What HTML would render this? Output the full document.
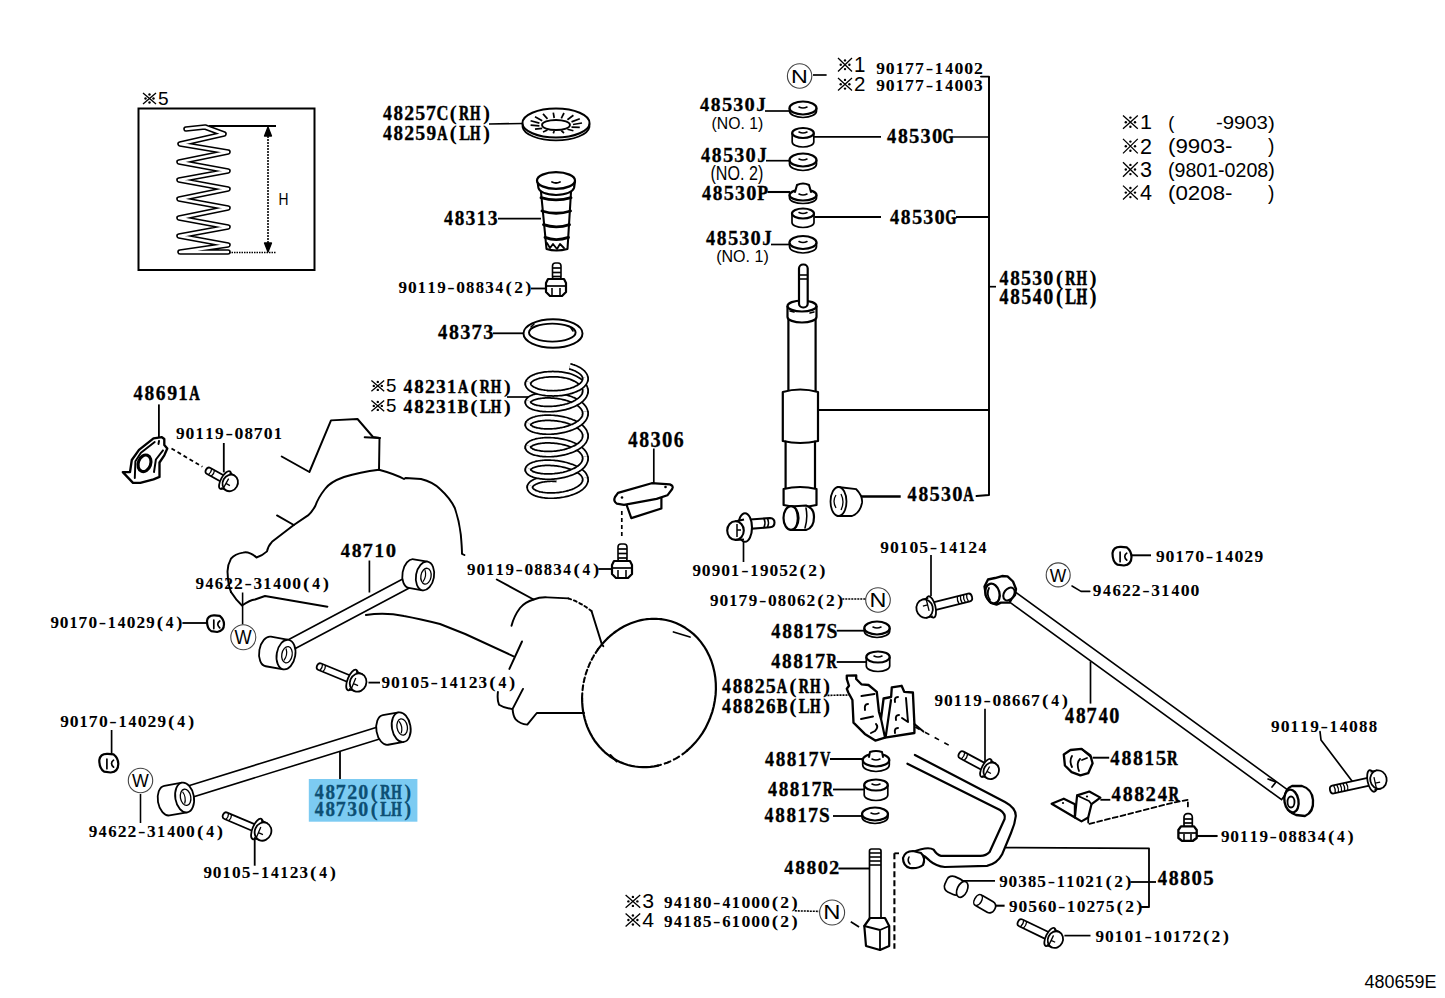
<!DOCTYPE html>
<html><head><meta charset="utf-8"><style>html,body{margin:0;padding:0;background:#fff;width:1445px;height:998px;overflow:hidden}svg{display:block}</style></head>
<body><svg width="1445" height="998" viewBox="0 0 1445 998">
<rect width="1445" height="998" fill="#fff"/>
<rect x="138.5" y="108.5" width="176" height="161.5" stroke="#000" stroke-width="2" fill="none"/>
<path d="M186,129 L205,127 L224,134 L180,144 L228,152 L179,162 L228,171 L179,180 L228,189 L179,199 L228,208 L179,218 L228,227 L179,236 L228,245 L180,252 L228,252" stroke="#000" stroke-width="5.6" fill="none" stroke-linejoin="round" stroke-linecap="round"/>
<path d="M186,129 L205,127 L224,134 L180,144 L228,152 L179,162 L228,171 L179,180 L228,189 L179,199 L228,208 L179,218 L228,227 L179,236 L228,245 L180,252 L228,252" stroke="#fff" stroke-width="2.4" fill="none" stroke-linejoin="round" stroke-linecap="round"/>
<line x1="209.0" y1="126.0" x2="276.0" y2="126.0" stroke="#000" stroke-width="1.95"/>
<line x1="229.0" y1="252.5" x2="276.0" y2="252.5" stroke="#000" stroke-width="1.69" stroke-dasharray="1.5,1"/>
<line x1="268.0" y1="130.0" x2="268.0" y2="249.0" stroke="#000" stroke-width="1.56" stroke-dasharray="2,1"/>
<path d="M264.5,136 L268,127 L271.5,136 Z" stroke="#000" stroke-width="1.30" fill="#000" stroke-linejoin="round" stroke-linecap="round" />
<path d="M264.5,243 L268,252 L271.5,243 Z" stroke="#000" stroke-width="1.30" fill="#000" stroke-linejoin="round" stroke-linecap="round" />
<line x1="489.0" y1="124.0" x2="523.0" y2="123.5" stroke="#000" stroke-width="1.69"/>
<path d="M522.5,124 L522.6,127 A33.5,14.5 0 0 0 589.4,127 L589.5,124" stroke="#000" stroke-width="1.82" fill="none" stroke-linejoin="round" stroke-linecap="round" />
<ellipse cx="556.0" cy="123.0" rx="33.5" ry="14.5" stroke="#000" stroke-width="1.95" fill="#fff"/>
<ellipse cx="556.0" cy="125.0" rx="14.0" ry="5.0" stroke="#000" stroke-width="1.82" fill="#fff"/>
<line x1="573.0" y1="124.5" x2="582.0" y2="123.0" stroke="#000" stroke-width="1.69"/>
<line x1="571.5" y1="127.1" x2="579.8" y2="127.3" stroke="#000" stroke-width="1.69"/>
<line x1="567.4" y1="129.3" x2="573.4" y2="130.8" stroke="#000" stroke-width="1.69"/>
<line x1="561.3" y1="130.7" x2="564.0" y2="133.0" stroke="#000" stroke-width="1.69"/>
<line x1="554.2" y1="131.0" x2="553.3" y2="133.4" stroke="#000" stroke-width="1.69"/>
<line x1="547.5" y1="130.1" x2="543.0" y2="132.1" stroke="#000" stroke-width="1.69"/>
<line x1="542.2" y1="128.3" x2="535.0" y2="129.2" stroke="#000" stroke-width="1.69"/>
<line x1="539.4" y1="125.9" x2="530.6" y2="125.2" stroke="#000" stroke-width="1.69"/>
<line x1="539.4" y1="123.1" x2="530.6" y2="120.8" stroke="#000" stroke-width="1.69"/>
<line x1="542.2" y1="120.7" x2="535.0" y2="116.8" stroke="#000" stroke-width="1.69"/>
<line x1="547.5" y1="118.9" x2="543.0" y2="113.9" stroke="#000" stroke-width="1.69"/>
<line x1="554.2" y1="118.0" x2="553.3" y2="112.6" stroke="#000" stroke-width="1.69"/>
<line x1="561.3" y1="118.3" x2="564.0" y2="113.0" stroke="#000" stroke-width="1.69"/>
<line x1="567.4" y1="119.7" x2="573.4" y2="115.2" stroke="#000" stroke-width="1.69"/>
<line x1="571.5" y1="121.9" x2="579.8" y2="118.7" stroke="#000" stroke-width="1.69"/>
<line x1="498.0" y1="218.6" x2="541.0" y2="218.6" stroke="#000" stroke-width="1.69"/>
<path d="M541,192 L546.5,249 Q556,252 567.5,249 L571,192" stroke="#000" stroke-width="2.08" fill="#fff" stroke-linejoin="round" stroke-linecap="round" />
<path d="M541,197.6 Q556,202.1 571,197.6" stroke="#000" stroke-width="2.86" fill="none" stroke-linejoin="round" stroke-linecap="round" />
<path d="M542,211 Q556,215.5 570.5,211" stroke="#000" stroke-width="2.86" fill="none" stroke-linejoin="round" stroke-linecap="round" />
<path d="M543.5,224.6 Q556,229.1 569.5,224.6" stroke="#000" stroke-width="2.86" fill="none" stroke-linejoin="round" stroke-linecap="round" />
<path d="M545,237.4 Q556,241.9 568.5,237.4" stroke="#000" stroke-width="2.86" fill="none" stroke-linejoin="round" stroke-linecap="round" />
<path d="M547,243 l3,5 l3,-4 l4,5 l3,-5 l4,4" stroke="#000" stroke-width="1.82" fill="none" stroke-linejoin="round" stroke-linecap="round" />
<path d="M537.5,181 L538.5,188 Q540,194 556,195 Q572,194 574,188 L575,181" stroke="#000" stroke-width="2.21" fill="#fff" stroke-linejoin="round" stroke-linecap="round" />
<ellipse cx="556.0" cy="180.5" rx="19.0" ry="8.3" stroke="#000" stroke-width="2.21" fill="#fff"/>
<path d="M552,182 q4,2 8,0" stroke="#000" stroke-width="1.82" fill="none" stroke-linejoin="round" stroke-linecap="round" />
<line x1="531.0" y1="288.5" x2="546.0" y2="288.5" stroke="#000" stroke-width="1.82"/>
<rect x="552.5" y="263" width="8.5" height="17" rx="3" stroke="#000" stroke-width="1.6" fill="#fff"/>
<line x1="552.5" y1="268.0" x2="561.0" y2="268.0" stroke="#000" stroke-width="1.69"/>
<line x1="552.5" y1="272.5" x2="561.0" y2="272.5" stroke="#000" stroke-width="1.69"/>
<line x1="552.5" y1="276.5" x2="561.0" y2="276.5" stroke="#000" stroke-width="1.69"/>
<path d="M546,283 L548,279 L564,279 L566,283 L566,292 L562,296 L550,296 L546,292 Z" stroke="#000" stroke-width="2.21" fill="#fff" stroke-linejoin="round" stroke-linecap="round" />
<line x1="546.0" y1="286.0" x2="566.0" y2="286.0" stroke="#000" stroke-width="1.69"/>
<line x1="552.0" y1="288.0" x2="552.0" y2="296.0" stroke="#000" stroke-width="1.56"/>
<line x1="560.0" y1="288.0" x2="560.0" y2="296.0" stroke="#000" stroke-width="1.56"/>
<line x1="493.0" y1="333.3" x2="523.0" y2="333.3" stroke="#000" stroke-width="1.82"/>
<ellipse cx="553.0" cy="333.5" rx="29.5" ry="14.3" stroke="#000" stroke-width="1.95" fill="#fff"/>
<ellipse cx="552.3" cy="332.6" rx="23.3" ry="9.0" stroke="#000" stroke-width="1.95" fill="#fff"/>
<path d="M531,327 l3,-3 M571,328 l2,3" stroke="#000" stroke-width="1.56" fill="none" stroke-linejoin="round" stroke-linecap="round" />
<line x1="507.0" y1="397.0" x2="529.0" y2="397.0" stroke="#000" stroke-width="1.69"/>
<path d="M569.7,366.3 L570.9,366.6 L572.0,367.0 L573.2,367.4 L574.2,367.8 L575.3,368.2 L576.3,368.7 L577.2,369.1 L578.1,369.6 L579.0,370.1 L579.8,370.6 L580.6,371.2 L581.3,371.7 L582.0,372.3 L582.6,372.8 L583.1,373.4 L583.6,374.0 L584.0,374.6 L584.4,375.2 L584.7,375.8 L585.0,376.5 L585.2,377.1 L585.3,377.7 L585.4,378.4 L585.4,379.0 L585.3,379.6 L585.2,380.2 L585.0,380.9" stroke="#000" stroke-width="7" fill="none" stroke-linecap="butt"/>
<path d="M569.7,366.3 L570.9,366.6 L572.0,367.0 L573.2,367.4 L574.2,367.8 L575.3,368.2 L576.3,368.7 L577.2,369.1 L578.1,369.6 L579.0,370.1 L579.8,370.6 L580.6,371.2 L581.3,371.7 L582.0,372.3 L582.6,372.8 L583.1,373.4 L583.6,374.0 L584.0,374.6 L584.4,375.2 L584.7,375.8 L585.0,376.5 L585.2,377.1 L585.3,377.7 L585.4,378.4 L585.4,379.0 L585.3,379.6 L585.2,380.2 L585.0,380.9" stroke="#fff" stroke-width="3.6" fill="none" stroke-linecap="butt"/>
<path d="M528.1,384.8 L528.0,384.3 L528.0,383.8 L528.0,383.3 L528.1,382.9 L528.3,382.4 L528.5,381.9 L528.7,381.4 L529.1,381.0 L529.5,380.5 L529.9,380.0 L530.4,379.6 L531.0,379.2 L531.6,378.7 L532.3,378.3 L533.0,377.9 L533.8,377.6 L534.6,377.2 L535.5,376.9 L536.4,376.5 L537.4,376.2 L538.4,375.9 L539.4,375.6 L540.5,375.4 L541.6,375.2 L542.8,375.0 L543.9,374.8 L545.2,374.6 L546.4,374.5 L547.6,374.4 L548.9,374.3 L550.2,374.2 L551.5,374.2 L552.8,374.1 L554.2,374.2 L555.5,374.2 L556.8,374.3 L558.2,374.3 L559.5,374.5 L560.8,374.6 L562.1,374.8 L563.5,375.0 L564.7,375.2 L566.0,375.4 L567.3,375.7 L568.5,376.0 L569.7,376.3 L570.9,376.7 L572.0,377.2 L573.1,377.7 L574.2,378.2 L575.3,378.7 L576.3,379.2 L577.2,379.8 L578.1,380.3 L579.0,380.9 L579.8,381.5 L580.6,382.2 L581.3,382.8 L581.9,383.5 L582.6,384.1 L583.1,384.8 L583.6,385.5 L584.0,386.2 L584.4,386.9 L584.7,387.6 L585.0,388.3 L585.2,389.0 L585.3,389.7 L585.4,390.5 L585.4,391.2 L585.3,391.9 L585.2,392.6 L585.1,393.4" stroke="#000" stroke-width="7" fill="none" stroke-linecap="butt"/>
<path d="M528.1,384.8 L528.0,384.3 L528.0,383.8 L528.0,383.3 L528.1,382.9 L528.3,382.4 L528.5,381.9 L528.7,381.4 L529.1,381.0 L529.5,380.5 L529.9,380.0 L530.4,379.6 L531.0,379.2 L531.6,378.7 L532.3,378.3 L533.0,377.9 L533.8,377.6 L534.6,377.2 L535.5,376.9 L536.4,376.5 L537.4,376.2 L538.4,375.9 L539.4,375.6 L540.5,375.4 L541.6,375.2 L542.8,375.0 L543.9,374.8 L545.2,374.6 L546.4,374.5 L547.6,374.4 L548.9,374.3 L550.2,374.2 L551.5,374.2 L552.8,374.1 L554.2,374.2 L555.5,374.2 L556.8,374.3 L558.2,374.3 L559.5,374.5 L560.8,374.6 L562.1,374.8 L563.5,375.0 L564.7,375.2 L566.0,375.4 L567.3,375.7 L568.5,376.0 L569.7,376.3 L570.9,376.7 L572.0,377.2 L573.1,377.7 L574.2,378.2 L575.3,378.7 L576.3,379.2 L577.2,379.8 L578.1,380.3 L579.0,380.9 L579.8,381.5 L580.6,382.2 L581.3,382.8 L581.9,383.5 L582.6,384.1 L583.1,384.8 L583.6,385.5 L584.0,386.2 L584.4,386.9 L584.7,387.6 L585.0,388.3 L585.2,389.0 L585.3,389.7 L585.4,390.5 L585.4,391.2 L585.3,391.9 L585.2,392.6 L585.1,393.4" stroke="#fff" stroke-width="3.6" fill="none" stroke-linecap="butt"/>
<path d="M528.1,403.0 L528.0,402.6 L528.0,402.3 L528.0,401.9 L528.1,401.5 L528.3,401.1 L528.5,400.7 L528.7,400.3 L529.1,399.9 L529.4,399.6 L529.9,399.2 L530.4,398.9 L531.0,398.5 L531.6,398.2 L532.2,397.9 L533.0,397.6 L533.7,397.3 L534.6,397.0 L535.4,396.8 L536.4,396.5 L537.3,396.3 L538.3,396.1 L539.4,395.9 L540.5,395.8 L541.6,395.6 L542.7,395.5 L543.9,395.4 L545.1,395.3 L546.4,395.3 L547.6,395.3 L548.9,395.3 L550.2,395.3 L551.5,395.4 L552.8,395.4 L554.1,395.5 L555.5,395.7 L556.8,395.8 L558.1,396.0 L559.5,396.2 L560.8,396.4 L562.1,396.7 L563.4,397.0 L564.7,397.3 L566.0,397.6 L567.2,398.0 L568.5,398.4 L569.7,398.8 L570.9,399.2 L572.0,399.7 L573.1,400.1 L574.2,400.6 L575.2,401.2 L576.2,401.7 L577.2,402.3 L578.1,402.8 L579.0,403.4 L579.8,404.0 L580.6,404.7 L581.3,405.3 L581.9,405.9 L582.5,406.6 L583.1,407.3 L583.6,408.0 L584.0,408.7 L584.4,409.4 L584.7,410.1 L585.0,410.8 L585.2,411.5 L585.3,412.2 L585.4,413.0 L585.4,413.7 L585.3,414.4 L585.2,415.1 L585.1,415.8" stroke="#000" stroke-width="7" fill="none" stroke-linecap="butt"/>
<path d="M528.1,403.0 L528.0,402.6 L528.0,402.3 L528.0,401.9 L528.1,401.5 L528.3,401.1 L528.5,400.7 L528.7,400.3 L529.1,399.9 L529.4,399.6 L529.9,399.2 L530.4,398.9 L531.0,398.5 L531.6,398.2 L532.2,397.9 L533.0,397.6 L533.7,397.3 L534.6,397.0 L535.4,396.8 L536.4,396.5 L537.3,396.3 L538.3,396.1 L539.4,395.9 L540.5,395.8 L541.6,395.6 L542.7,395.5 L543.9,395.4 L545.1,395.3 L546.4,395.3 L547.6,395.3 L548.9,395.3 L550.2,395.3 L551.5,395.4 L552.8,395.4 L554.1,395.5 L555.5,395.7 L556.8,395.8 L558.1,396.0 L559.5,396.2 L560.8,396.4 L562.1,396.7 L563.4,397.0 L564.7,397.3 L566.0,397.6 L567.2,398.0 L568.5,398.4 L569.7,398.8 L570.9,399.2 L572.0,399.7 L573.1,400.1 L574.2,400.6 L575.2,401.2 L576.2,401.7 L577.2,402.3 L578.1,402.8 L579.0,403.4 L579.8,404.0 L580.6,404.7 L581.3,405.3 L581.9,405.9 L582.5,406.6 L583.1,407.3 L583.6,408.0 L584.0,408.7 L584.4,409.4 L584.7,410.1 L585.0,410.8 L585.2,411.5 L585.3,412.2 L585.4,413.0 L585.4,413.7 L585.3,414.4 L585.2,415.1 L585.1,415.8" stroke="#fff" stroke-width="3.6" fill="none" stroke-linecap="butt"/>
<path d="M528.1,425.5 L528.0,425.2 L528.0,424.8 L528.0,424.4 L528.1,424.0 L528.2,423.6 L528.5,423.2 L528.7,422.8 L529.0,422.4 L529.4,422.1 L529.9,421.7 L530.4,421.4 L530.9,421.0 L531.6,420.7 L532.2,420.4 L533.0,420.1 L533.7,419.8 L534.6,419.5 L535.4,419.3 L536.4,419.0 L537.3,418.8 L538.3,418.6 L539.4,418.4 L540.4,418.3 L541.6,418.1 L542.7,418.0 L543.9,417.9 L545.1,417.8 L546.3,417.8 L547.6,417.8 L548.9,417.8 L550.2,417.8 L551.5,417.9 L552.8,417.9 L554.1,418.0 L555.4,418.2 L556.8,418.3 L558.1,418.5 L559.5,418.7 L560.8,418.9 L562.1,419.2 L563.4,419.5 L564.7,419.8 L566.0,420.1 L567.2,420.5 L568.4,420.9 L569.7,421.3 L570.8,421.7 L572.0,422.2 L573.1,422.6 L574.2,423.1 L575.2,423.7 L576.2,424.2 L577.2,424.7 L578.1,425.3 L578.9,425.9 L579.8,426.5 L580.5,427.1 L581.3,427.8 L581.9,428.4 L582.5,429.1 L583.1,429.8 L583.6,430.5 L584.0,431.1 L584.4,431.8 L584.7,432.6 L585.0,433.3 L585.2,434.0 L585.3,434.7 L585.4,435.4 L585.4,436.2 L585.3,436.9 L585.2,437.6 L585.1,438.3" stroke="#000" stroke-width="7" fill="none" stroke-linecap="butt"/>
<path d="M528.1,425.5 L528.0,425.2 L528.0,424.8 L528.0,424.4 L528.1,424.0 L528.2,423.6 L528.5,423.2 L528.7,422.8 L529.0,422.4 L529.4,422.1 L529.9,421.7 L530.4,421.4 L530.9,421.0 L531.6,420.7 L532.2,420.4 L533.0,420.1 L533.7,419.8 L534.6,419.5 L535.4,419.3 L536.4,419.0 L537.3,418.8 L538.3,418.6 L539.4,418.4 L540.4,418.3 L541.6,418.1 L542.7,418.0 L543.9,417.9 L545.1,417.8 L546.3,417.8 L547.6,417.8 L548.9,417.8 L550.2,417.8 L551.5,417.9 L552.8,417.9 L554.1,418.0 L555.4,418.2 L556.8,418.3 L558.1,418.5 L559.5,418.7 L560.8,418.9 L562.1,419.2 L563.4,419.5 L564.7,419.8 L566.0,420.1 L567.2,420.5 L568.4,420.9 L569.7,421.3 L570.8,421.7 L572.0,422.2 L573.1,422.6 L574.2,423.1 L575.2,423.7 L576.2,424.2 L577.2,424.7 L578.1,425.3 L578.9,425.9 L579.8,426.5 L580.5,427.1 L581.3,427.8 L581.9,428.4 L582.5,429.1 L583.1,429.8 L583.6,430.5 L584.0,431.1 L584.4,431.8 L584.7,432.6 L585.0,433.3 L585.2,434.0 L585.3,434.7 L585.4,435.4 L585.4,436.2 L585.3,436.9 L585.2,437.6 L585.1,438.3" stroke="#fff" stroke-width="3.6" fill="none" stroke-linecap="butt"/>
<path d="M528.2,448.0 L528.0,447.7 L528.0,447.3 L528.0,446.9 L528.1,446.5 L528.2,446.1 L528.4,445.7 L528.7,445.3 L529.0,445.0 L529.4,444.6 L529.9,444.2 L530.4,443.9 L530.9,443.5 L531.5,443.2 L532.2,442.9 L532.9,442.6 L533.7,442.3 L534.5,442.0 L535.4,441.8 L536.3,441.5 L537.3,441.3 L538.3,441.1 L539.3,440.9 L540.4,440.8 L541.5,440.6 L542.7,440.5 L543.9,440.4 L545.1,440.3 L546.3,440.3 L547.6,440.3 L548.8,440.3 L550.1,440.3 L551.4,440.4 L552.8,440.4 L554.1,440.5 L555.4,440.7 L556.8,440.8 L558.1,441.0 L559.4,441.2 L560.7,441.4 L562.1,441.7 L563.4,442.0 L564.7,442.3 L565.9,442.6 L567.2,443.0 L568.4,443.4 L569.6,443.8 L570.8,444.2 L572.0,444.7 L573.1,445.1 L574.1,445.6 L575.2,446.1 L576.2,446.7 L577.1,447.2 L578.1,447.8 L578.9,448.4 L579.8,449.0 L580.5,449.6 L581.2,450.3 L581.9,450.9 L582.5,451.6 L583.1,452.3 L583.6,452.9 L584.0,453.6 L584.4,454.3 L584.7,455.0 L585.0,455.8 L585.2,456.5 L585.3,457.2 L585.4,457.9 L585.4,458.6 L585.3,459.4 L585.2,460.1 L585.1,460.8" stroke="#000" stroke-width="7" fill="none" stroke-linecap="butt"/>
<path d="M528.2,448.0 L528.0,447.7 L528.0,447.3 L528.0,446.9 L528.1,446.5 L528.2,446.1 L528.4,445.7 L528.7,445.3 L529.0,445.0 L529.4,444.6 L529.9,444.2 L530.4,443.9 L530.9,443.5 L531.5,443.2 L532.2,442.9 L532.9,442.6 L533.7,442.3 L534.5,442.0 L535.4,441.8 L536.3,441.5 L537.3,441.3 L538.3,441.1 L539.3,440.9 L540.4,440.8 L541.5,440.6 L542.7,440.5 L543.9,440.4 L545.1,440.3 L546.3,440.3 L547.6,440.3 L548.8,440.3 L550.1,440.3 L551.4,440.4 L552.8,440.4 L554.1,440.5 L555.4,440.7 L556.8,440.8 L558.1,441.0 L559.4,441.2 L560.7,441.4 L562.1,441.7 L563.4,442.0 L564.7,442.3 L565.9,442.6 L567.2,443.0 L568.4,443.4 L569.6,443.8 L570.8,444.2 L572.0,444.7 L573.1,445.1 L574.1,445.6 L575.2,446.1 L576.2,446.7 L577.1,447.2 L578.1,447.8 L578.9,448.4 L579.8,449.0 L580.5,449.6 L581.2,450.3 L581.9,450.9 L582.5,451.6 L583.1,452.3 L583.6,452.9 L584.0,453.6 L584.4,454.3 L584.7,455.0 L585.0,455.8 L585.2,456.5 L585.3,457.2 L585.4,457.9 L585.4,458.6 L585.3,459.4 L585.2,460.1 L585.1,460.8" stroke="#fff" stroke-width="3.6" fill="none" stroke-linecap="butt"/>
<path d="M528.2,470.6 L528.0,470.2 L528.0,469.8 L528.0,469.4 L528.1,469.0 L528.2,468.6 L528.4,468.2 L528.7,467.8 L529.0,467.5 L529.4,467.1 L529.9,466.7 L530.4,466.4 L530.9,466.0 L531.5,465.7 L532.2,465.4 L532.9,465.1 L533.7,464.8 L534.5,464.5 L535.4,464.3 L536.3,464.0 L537.3,463.8 L538.3,463.6 L539.3,463.4 L540.4,463.3 L541.5,463.1 L542.7,463.0 L543.8,462.9 L545.1,462.8 L546.3,462.8 L547.5,462.8 L548.8,462.8 L550.1,462.8 L551.4,462.9 L552.7,462.9 L554.1,463.0 L555.4,463.2 L556.7,463.3 L558.1,463.5 L559.4,463.7 L560.7,463.9 L562.0,464.2 L563.3,464.5 L564.6,464.8 L565.9,465.1 L567.2,465.5 L568.4,465.9 L569.6,466.3 L570.8,466.6 L571.9,467.0 L573.0,467.5 L574.1,467.9 L575.2,468.4 L576.2,468.8 L577.1,469.3 L578.0,469.9 L578.9,470.4 L579.7,470.9 L580.5,471.5 L581.2,472.1 L581.9,472.7 L582.5,473.3 L583.1,473.9 L583.6,474.5 L584.0,475.2 L584.4,475.8 L584.7,476.5 L585.0,477.1 L585.2,477.8 L585.3,478.5 L585.4,479.1 L585.4,479.8 L585.4,480.5 L585.2,481.1 L585.1,481.8" stroke="#000" stroke-width="7" fill="none" stroke-linecap="butt"/>
<path d="M528.2,470.6 L528.0,470.2 L528.0,469.8 L528.0,469.4 L528.1,469.0 L528.2,468.6 L528.4,468.2 L528.7,467.8 L529.0,467.5 L529.4,467.1 L529.9,466.7 L530.4,466.4 L530.9,466.0 L531.5,465.7 L532.2,465.4 L532.9,465.1 L533.7,464.8 L534.5,464.5 L535.4,464.3 L536.3,464.0 L537.3,463.8 L538.3,463.6 L539.3,463.4 L540.4,463.3 L541.5,463.1 L542.7,463.0 L543.8,462.9 L545.1,462.8 L546.3,462.8 L547.5,462.8 L548.8,462.8 L550.1,462.8 L551.4,462.9 L552.7,462.9 L554.1,463.0 L555.4,463.2 L556.7,463.3 L558.1,463.5 L559.4,463.7 L560.7,463.9 L562.0,464.2 L563.3,464.5 L564.6,464.8 L565.9,465.1 L567.2,465.5 L568.4,465.9 L569.6,466.3 L570.8,466.6 L571.9,467.0 L573.0,467.5 L574.1,467.9 L575.2,468.4 L576.2,468.8 L577.1,469.3 L578.0,469.9 L578.9,470.4 L579.7,470.9 L580.5,471.5 L581.2,472.1 L581.9,472.7 L582.5,473.3 L583.1,473.9 L583.6,474.5 L584.0,475.2 L584.4,475.8 L584.7,476.5 L585.0,477.1 L585.2,477.8 L585.3,478.5 L585.4,479.1 L585.4,479.8 L585.4,480.5 L585.2,481.1 L585.1,481.8" stroke="#fff" stroke-width="3.6" fill="none" stroke-linecap="butt"/>
<path d="M529.9,488.1 L529.9,487.7 L529.9,487.2 L529.9,486.8 L530.0,486.3 L530.2,485.9 L530.4,485.5 L530.7,485.0 L531.0,484.6 L531.4,484.2 L531.9,483.7 L532.4,483.3 L532.9,482.9 L533.5,482.6 L534.2,482.2 L534.9,481.8 L535.6,481.5 L536.4,481.2 L537.2,480.8 L538.1,480.5 L539.0,480.3 L539.9,480.0 L540.9,479.8 L541.9,479.6 L542.9,479.4 L544.0,479.2 L545.1,479.0 L546.2,478.9 L547.3,478.8 L548.4,478.7 L549.6,478.7 L550.8,478.6 L551.9,478.6 L553.1,478.7 L554.3,478.7 L555.5,478.8 L556.7,478.9" stroke="#000" stroke-width="7" fill="none" stroke-linecap="butt"/>
<path d="M529.9,488.1 L529.9,487.7 L529.9,487.2 L529.9,486.8 L530.0,486.3 L530.2,485.9 L530.4,485.5 L530.7,485.0 L531.0,484.6 L531.4,484.2 L531.9,483.7 L532.4,483.3 L532.9,482.9 L533.5,482.6 L534.2,482.2 L534.9,481.8 L535.6,481.5 L536.4,481.2 L537.2,480.8 L538.1,480.5 L539.0,480.3 L539.9,480.0 L540.9,479.8 L541.9,479.6 L542.9,479.4 L544.0,479.2 L545.1,479.0 L546.2,478.9 L547.3,478.8 L548.4,478.7 L549.6,478.7 L550.8,478.6 L551.9,478.6 L553.1,478.7 L554.3,478.7 L555.5,478.8 L556.7,478.9" stroke="#fff" stroke-width="3.6" fill="none" stroke-linecap="butt"/>
<path d="M585.2,377.1 L585.3,377.7 L585.4,378.4 L585.4,379.0 L585.3,379.6 L585.2,380.2 L585.0,380.9 L584.8,381.5 L584.5,382.1 L584.1,382.7 L583.7,383.3 L583.2,383.9 L582.7,384.5 L582.1,385.1 L581.5,385.6 L580.8,386.2 L580.0,386.7 L579.2,387.3 L578.4,387.8 L577.5,388.2 L576.5,388.7 L575.5,389.2 L574.5,389.6 L573.4,390.0 L572.3,390.4 L571.2,390.8 L570.0,391.1 L568.8,391.4 L567.6,391.7 L566.4,392.0 L565.1,392.3 L563.8,392.5 L562.5,392.7 L561.2,392.9 L559.9,393.0 L558.5,393.1 L557.2,393.2 L555.9,393.3 L554.5,393.3 L553.2,393.4 L551.9,393.3 L550.6,393.3 L549.3,393.3 L548.0,393.2 L546.7,393.1 L545.5,392.9 L544.3,392.8 L543.1,392.6 L541.9,392.4 L540.8,392.2 L539.7,391.9 L538.7,391.7 L537.6,391.4 L536.7,391.1 L535.7,390.7 L534.8,390.4 L534.0,390.0 L533.2,389.7 L532.5,389.3 L531.8,388.9 L531.1,388.5 L530.6,388.0 L530.0,387.6 L529.6,387.1 L529.2,386.7 L528.8,386.2 L528.5,385.7 L528.3,385.3 L528.1,384.8 L528.0,384.3 L528.0,383.8 L528.0,383.3 L528.1,382.9 L528.3,382.4 L528.5,381.9" stroke="#000" stroke-width="7" fill="none" stroke-linecap="butt"/>
<path d="M585.2,377.1 L585.3,377.7 L585.4,378.4 L585.4,379.0 L585.3,379.6 L585.2,380.2 L585.0,380.9 L584.8,381.5 L584.5,382.1 L584.1,382.7 L583.7,383.3 L583.2,383.9 L582.7,384.5 L582.1,385.1 L581.5,385.6 L580.8,386.2 L580.0,386.7 L579.2,387.3 L578.4,387.8 L577.5,388.2 L576.5,388.7 L575.5,389.2 L574.5,389.6 L573.4,390.0 L572.3,390.4 L571.2,390.8 L570.0,391.1 L568.8,391.4 L567.6,391.7 L566.4,392.0 L565.1,392.3 L563.8,392.5 L562.5,392.7 L561.2,392.9 L559.9,393.0 L558.5,393.1 L557.2,393.2 L555.9,393.3 L554.5,393.3 L553.2,393.4 L551.9,393.3 L550.6,393.3 L549.3,393.3 L548.0,393.2 L546.7,393.1 L545.5,392.9 L544.3,392.8 L543.1,392.6 L541.9,392.4 L540.8,392.2 L539.7,391.9 L538.7,391.7 L537.6,391.4 L536.7,391.1 L535.7,390.7 L534.8,390.4 L534.0,390.0 L533.2,389.7 L532.5,389.3 L531.8,388.9 L531.1,388.5 L530.6,388.0 L530.0,387.6 L529.6,387.1 L529.2,386.7 L528.8,386.2 L528.5,385.7 L528.3,385.3 L528.1,384.8 L528.0,384.3 L528.0,383.8 L528.0,383.3 L528.1,382.9 L528.3,382.4 L528.5,381.9" stroke="#fff" stroke-width="3.6" fill="none" stroke-linecap="butt"/>
<path d="M585.2,389.0 L585.3,389.7 L585.4,390.5 L585.4,391.2 L585.3,391.9 L585.2,392.6 L585.1,393.4 L584.8,394.1 L584.5,394.8 L584.2,395.5 L583.7,396.2 L583.3,396.9 L582.7,397.6 L582.1,398.2 L581.5,398.9 L580.8,399.5 L580.0,400.1 L579.2,400.8 L578.4,401.4 L577.5,401.9 L576.5,402.5 L575.6,403.0 L574.5,403.6 L573.5,404.1 L572.4,404.6 L571.2,405.0 L570.1,405.4 L568.9,405.9 L567.6,406.3 L566.4,406.6 L565.1,407.0 L563.8,407.3 L562.5,407.6 L561.2,407.8 L559.9,408.1 L558.6,408.3 L557.2,408.5 L555.9,408.7 L554.6,408.8 L553.2,408.9 L551.9,409.0 L550.6,409.1 L549.3,409.1 L548.0,409.1 L546.8,409.1 L545.5,409.0 L544.3,409.0 L543.1,408.9 L542.0,408.8 L540.8,408.7 L539.7,408.5 L538.7,408.3 L537.7,408.1 L536.7,407.9 L535.7,407.7 L534.9,407.4 L534.0,407.2 L533.2,406.9 L532.5,406.6 L531.8,406.3 L531.1,406.0 L530.6,405.6 L530.0,405.3 L529.6,404.9 L529.2,404.6 L528.8,404.2 L528.5,403.8 L528.3,403.4 L528.1,403.0 L528.0,402.6 L528.0,402.3 L528.0,401.9 L528.1,401.5 L528.3,401.1 L528.5,400.7" stroke="#000" stroke-width="7" fill="none" stroke-linecap="butt"/>
<path d="M585.2,389.0 L585.3,389.7 L585.4,390.5 L585.4,391.2 L585.3,391.9 L585.2,392.6 L585.1,393.4 L584.8,394.1 L584.5,394.8 L584.2,395.5 L583.7,396.2 L583.3,396.9 L582.7,397.6 L582.1,398.2 L581.5,398.9 L580.8,399.5 L580.0,400.1 L579.2,400.8 L578.4,401.4 L577.5,401.9 L576.5,402.5 L575.6,403.0 L574.5,403.6 L573.5,404.1 L572.4,404.6 L571.2,405.0 L570.1,405.4 L568.9,405.9 L567.6,406.3 L566.4,406.6 L565.1,407.0 L563.8,407.3 L562.5,407.6 L561.2,407.8 L559.9,408.1 L558.6,408.3 L557.2,408.5 L555.9,408.7 L554.6,408.8 L553.2,408.9 L551.9,409.0 L550.6,409.1 L549.3,409.1 L548.0,409.1 L546.8,409.1 L545.5,409.0 L544.3,409.0 L543.1,408.9 L542.0,408.8 L540.8,408.7 L539.7,408.5 L538.7,408.3 L537.7,408.1 L536.7,407.9 L535.7,407.7 L534.9,407.4 L534.0,407.2 L533.2,406.9 L532.5,406.6 L531.8,406.3 L531.1,406.0 L530.6,405.6 L530.0,405.3 L529.6,404.9 L529.2,404.6 L528.8,404.2 L528.5,403.8 L528.3,403.4 L528.1,403.0 L528.0,402.6 L528.0,402.3 L528.0,401.9 L528.1,401.5 L528.3,401.1 L528.5,400.7" stroke="#fff" stroke-width="3.6" fill="none" stroke-linecap="butt"/>
<path d="M585.2,411.5 L585.3,412.2 L585.4,413.0 L585.4,413.7 L585.3,414.4 L585.2,415.1 L585.1,415.8 L584.8,416.6 L584.5,417.3 L584.2,418.0 L583.7,418.7 L583.3,419.4 L582.7,420.0 L582.1,420.7 L581.5,421.4 L580.8,422.0 L580.1,422.6 L579.3,423.2 L578.4,423.8 L577.5,424.4 L576.6,425.0 L575.6,425.5 L574.6,426.1 L573.5,426.6 L572.4,427.0 L571.3,427.5 L570.1,427.9 L568.9,428.4 L567.7,428.7 L566.4,429.1 L565.2,429.5 L563.9,429.8 L562.6,430.1 L561.3,430.3 L559.9,430.6 L558.6,430.8 L557.3,431.0 L555.9,431.2 L554.6,431.3 L553.3,431.4 L551.9,431.5 L550.6,431.6 L549.3,431.6 L548.1,431.6 L546.8,431.6 L545.6,431.5 L544.3,431.5 L543.1,431.4 L542.0,431.3 L540.8,431.2 L539.8,431.0 L538.7,430.8 L537.7,430.6 L536.7,430.4 L535.8,430.2 L534.9,429.9 L534.0,429.7 L533.2,429.4 L532.5,429.1 L531.8,428.8 L531.2,428.5 L530.6,428.1 L530.1,427.8 L529.6,427.4 L529.2,427.1 L528.8,426.7 L528.5,426.3 L528.3,425.9 L528.1,425.5 L528.0,425.2 L528.0,424.8 L528.0,424.4 L528.1,424.0 L528.2,423.6 L528.5,423.2" stroke="#000" stroke-width="7" fill="none" stroke-linecap="butt"/>
<path d="M585.2,411.5 L585.3,412.2 L585.4,413.0 L585.4,413.7 L585.3,414.4 L585.2,415.1 L585.1,415.8 L584.8,416.6 L584.5,417.3 L584.2,418.0 L583.7,418.7 L583.3,419.4 L582.7,420.0 L582.1,420.7 L581.5,421.4 L580.8,422.0 L580.1,422.6 L579.3,423.2 L578.4,423.8 L577.5,424.4 L576.6,425.0 L575.6,425.5 L574.6,426.1 L573.5,426.6 L572.4,427.0 L571.3,427.5 L570.1,427.9 L568.9,428.4 L567.7,428.7 L566.4,429.1 L565.2,429.5 L563.9,429.8 L562.6,430.1 L561.3,430.3 L559.9,430.6 L558.6,430.8 L557.3,431.0 L555.9,431.2 L554.6,431.3 L553.3,431.4 L551.9,431.5 L550.6,431.6 L549.3,431.6 L548.1,431.6 L546.8,431.6 L545.6,431.5 L544.3,431.5 L543.1,431.4 L542.0,431.3 L540.8,431.2 L539.8,431.0 L538.7,430.8 L537.7,430.6 L536.7,430.4 L535.8,430.2 L534.9,429.9 L534.0,429.7 L533.2,429.4 L532.5,429.1 L531.8,428.8 L531.2,428.5 L530.6,428.1 L530.1,427.8 L529.6,427.4 L529.2,427.1 L528.8,426.7 L528.5,426.3 L528.3,425.9 L528.1,425.5 L528.0,425.2 L528.0,424.8 L528.0,424.4 L528.1,424.0 L528.2,423.6 L528.5,423.2" stroke="#fff" stroke-width="3.6" fill="none" stroke-linecap="butt"/>
<path d="M585.2,434.0 L585.3,434.7 L585.4,435.4 L585.4,436.2 L585.3,436.9 L585.2,437.6 L585.1,438.3 L584.8,439.0 L584.5,439.8 L584.2,440.5 L583.8,441.2 L583.3,441.8 L582.7,442.5 L582.2,443.2 L581.5,443.8 L580.8,444.5 L580.1,445.1 L579.3,445.7 L578.4,446.3 L577.5,446.9 L576.6,447.5 L575.6,448.0 L574.6,448.5 L573.5,449.0 L572.4,449.5 L571.3,450.0 L570.1,450.4 L568.9,450.8 L567.7,451.2 L566.4,451.6 L565.2,452.0 L563.9,452.3 L562.6,452.6 L561.3,452.8 L560.0,453.1 L558.6,453.3 L557.3,453.5 L556.0,453.7 L554.6,453.8 L553.3,453.9 L552.0,454.0 L550.7,454.1 L549.4,454.1 L548.1,454.1 L546.8,454.1 L545.6,454.0 L544.4,454.0 L543.2,453.9 L542.0,453.8 L540.9,453.7 L539.8,453.5 L538.7,453.3 L537.7,453.1 L536.7,452.9 L535.8,452.7 L534.9,452.5 L534.0,452.2 L533.2,451.9 L532.5,451.6 L531.8,451.3 L531.2,451.0 L530.6,450.6 L530.1,450.3 L529.6,449.9 L529.2,449.6 L528.8,449.2 L528.5,448.8 L528.3,448.4 L528.2,448.0 L528.0,447.7 L528.0,447.3 L528.0,446.9 L528.1,446.5 L528.2,446.1 L528.4,445.7" stroke="#000" stroke-width="7" fill="none" stroke-linecap="butt"/>
<path d="M585.2,434.0 L585.3,434.7 L585.4,435.4 L585.4,436.2 L585.3,436.9 L585.2,437.6 L585.1,438.3 L584.8,439.0 L584.5,439.8 L584.2,440.5 L583.8,441.2 L583.3,441.8 L582.7,442.5 L582.2,443.2 L581.5,443.8 L580.8,444.5 L580.1,445.1 L579.3,445.7 L578.4,446.3 L577.5,446.9 L576.6,447.5 L575.6,448.0 L574.6,448.5 L573.5,449.0 L572.4,449.5 L571.3,450.0 L570.1,450.4 L568.9,450.8 L567.7,451.2 L566.4,451.6 L565.2,452.0 L563.9,452.3 L562.6,452.6 L561.3,452.8 L560.0,453.1 L558.6,453.3 L557.3,453.5 L556.0,453.7 L554.6,453.8 L553.3,453.9 L552.0,454.0 L550.7,454.1 L549.4,454.1 L548.1,454.1 L546.8,454.1 L545.6,454.0 L544.4,454.0 L543.2,453.9 L542.0,453.8 L540.9,453.7 L539.8,453.5 L538.7,453.3 L537.7,453.1 L536.7,452.9 L535.8,452.7 L534.9,452.5 L534.0,452.2 L533.2,451.9 L532.5,451.6 L531.8,451.3 L531.2,451.0 L530.6,450.6 L530.1,450.3 L529.6,449.9 L529.2,449.6 L528.8,449.2 L528.5,448.8 L528.3,448.4 L528.2,448.0 L528.0,447.7 L528.0,447.3 L528.0,446.9 L528.1,446.5 L528.2,446.1 L528.4,445.7" stroke="#fff" stroke-width="3.6" fill="none" stroke-linecap="butt"/>
<path d="M585.2,456.5 L585.3,457.2 L585.4,457.9 L585.4,458.6 L585.3,459.4 L585.2,460.1 L585.1,460.8 L584.8,461.5 L584.5,462.2 L584.2,462.9 L583.8,463.6 L583.3,464.3 L582.8,465.0 L582.2,465.7 L581.5,466.3 L580.8,467.0 L580.1,467.6 L579.3,468.2 L578.4,468.8 L577.5,469.4 L576.6,470.0 L575.6,470.5 L574.6,471.0 L573.5,471.5 L572.4,472.0 L571.3,472.5 L570.1,472.9 L568.9,473.3 L567.7,473.7 L566.5,474.1 L565.2,474.4 L563.9,474.8 L562.6,475.1 L561.3,475.3 L560.0,475.6 L558.7,475.8 L557.3,476.0 L556.0,476.1 L554.7,476.3 L553.3,476.4 L552.0,476.5 L550.7,476.6 L549.4,476.6 L548.1,476.6 L546.8,476.6 L545.6,476.6 L544.4,476.5 L543.2,476.4 L542.0,476.3 L540.9,476.2 L539.8,476.0 L538.7,475.8 L537.7,475.7 L536.7,475.4 L535.8,475.2 L534.9,475.0 L534.1,474.7 L533.3,474.4 L532.5,474.1 L531.8,473.8 L531.2,473.5 L530.6,473.1 L530.1,472.8 L529.6,472.4 L529.2,472.1 L528.8,471.7 L528.6,471.3 L528.3,470.9 L528.2,470.6 L528.0,470.2 L528.0,469.8 L528.0,469.4 L528.1,469.0 L528.2,468.6 L528.4,468.2" stroke="#000" stroke-width="7" fill="none" stroke-linecap="butt"/>
<path d="M585.2,456.5 L585.3,457.2 L585.4,457.9 L585.4,458.6 L585.3,459.4 L585.2,460.1 L585.1,460.8 L584.8,461.5 L584.5,462.2 L584.2,462.9 L583.8,463.6 L583.3,464.3 L582.8,465.0 L582.2,465.7 L581.5,466.3 L580.8,467.0 L580.1,467.6 L579.3,468.2 L578.4,468.8 L577.5,469.4 L576.6,470.0 L575.6,470.5 L574.6,471.0 L573.5,471.5 L572.4,472.0 L571.3,472.5 L570.1,472.9 L568.9,473.3 L567.7,473.7 L566.5,474.1 L565.2,474.4 L563.9,474.8 L562.6,475.1 L561.3,475.3 L560.0,475.6 L558.7,475.8 L557.3,476.0 L556.0,476.1 L554.7,476.3 L553.3,476.4 L552.0,476.5 L550.7,476.6 L549.4,476.6 L548.1,476.6 L546.8,476.6 L545.6,476.6 L544.4,476.5 L543.2,476.4 L542.0,476.3 L540.9,476.2 L539.8,476.0 L538.7,475.8 L537.7,475.7 L536.7,475.4 L535.8,475.2 L534.9,475.0 L534.1,474.7 L533.3,474.4 L532.5,474.1 L531.8,473.8 L531.2,473.5 L530.6,473.1 L530.1,472.8 L529.6,472.4 L529.2,472.1 L528.8,471.7 L528.6,471.3 L528.3,470.9 L528.2,470.6 L528.0,470.2 L528.0,469.8 L528.0,469.4 L528.1,469.0 L528.2,468.6 L528.4,468.2" stroke="#fff" stroke-width="3.6" fill="none" stroke-linecap="butt"/>
<path d="M585.2,477.8 L585.3,478.5 L585.4,479.1 L585.4,479.8 L585.4,480.5 L585.2,481.1 L585.1,481.8 L584.8,482.5 L584.5,483.1 L584.2,483.8 L583.8,484.4 L583.3,485.0 L582.8,485.7 L582.2,486.3 L581.5,486.9 L580.9,487.5 L580.1,488.0 L579.3,488.6 L578.5,489.1 L577.6,489.7 L576.6,490.2 L575.6,490.7 L574.6,491.1 L573.5,491.6 L572.4,492.0 L571.2,492.4 L570.0,492.8 L568.8,493.2 L567.6,493.5 L566.4,493.8 L565.1,494.1 L563.8,494.4 L562.6,494.6 L561.3,494.8 L560.0,495.0 L558.6,495.2 L557.3,495.3 L556.0,495.4 L554.7,495.5 L553.4,495.6 L552.2,495.6 L550.9,495.6 L549.6,495.6 L548.4,495.6 L547.2,495.5 L546.0,495.4 L544.8,495.3 L543.7,495.1 L542.6,495.0 L541.5,494.8 L540.5,494.6 L539.5,494.4 L538.5,494.1 L537.6,493.8 L536.7,493.6 L535.9,493.2 L535.1,492.9 L534.4,492.6 L533.7,492.2 L533.1,491.9 L532.5,491.5 L532.0,491.1 L531.5,490.7 L531.1,490.3 L530.8,489.9 L530.5,489.4 L530.2,489.0 L530.1,488.6 L529.9,488.1 L529.9,487.7 L529.9,487.2 L529.9,486.8 L530.0,486.3 L530.2,485.9 L530.4,485.5" stroke="#000" stroke-width="7" fill="none" stroke-linecap="butt"/>
<path d="M585.2,477.8 L585.3,478.5 L585.4,479.1 L585.4,479.8 L585.4,480.5 L585.2,481.1 L585.1,481.8 L584.8,482.5 L584.5,483.1 L584.2,483.8 L583.8,484.4 L583.3,485.0 L582.8,485.7 L582.2,486.3 L581.5,486.9 L580.9,487.5 L580.1,488.0 L579.3,488.6 L578.5,489.1 L577.6,489.7 L576.6,490.2 L575.6,490.7 L574.6,491.1 L573.5,491.6 L572.4,492.0 L571.2,492.4 L570.0,492.8 L568.8,493.2 L567.6,493.5 L566.4,493.8 L565.1,494.1 L563.8,494.4 L562.6,494.6 L561.3,494.8 L560.0,495.0 L558.6,495.2 L557.3,495.3 L556.0,495.4 L554.7,495.5 L553.4,495.6 L552.2,495.6 L550.9,495.6 L549.6,495.6 L548.4,495.6 L547.2,495.5 L546.0,495.4 L544.8,495.3 L543.7,495.1 L542.6,495.0 L541.5,494.8 L540.5,494.6 L539.5,494.4 L538.5,494.1 L537.6,493.8 L536.7,493.6 L535.9,493.2 L535.1,492.9 L534.4,492.6 L533.7,492.2 L533.1,491.9 L532.5,491.5 L532.0,491.1 L531.5,490.7 L531.1,490.3 L530.8,489.9 L530.5,489.4 L530.2,489.0 L530.1,488.6 L529.9,488.1 L529.9,487.7 L529.9,487.2 L529.9,486.8 L530.0,486.3 L530.2,485.9 L530.4,485.5" stroke="#fff" stroke-width="3.6" fill="none" stroke-linecap="butt"/>
<line x1="653.8" y1="448.5" x2="653.8" y2="483.0" stroke="#000" stroke-width="1.69"/>
<path d="M625.9,503 L631.3,518.1 L661.4,508.5 L661.4,497" stroke="#000" stroke-width="2.21" fill="#fff" stroke-linejoin="round" stroke-linecap="round" />
<path d="M618,492.9 L651.7,483.2 L669.8,484.4 Q674,486 672.2,489 L667.4,495.3 L656.6,498.9 L624,504.9 L616.8,503.7 Q613,501 615,497 Z" stroke="#000" stroke-width="2.21" fill="#fff" stroke-linejoin="round" stroke-linecap="round" />
<circle cx="622" cy="497.5" r="1.3" fill="#000"/><circle cx="665.5" cy="487" r="1.3" fill="#000"/>
<line x1="621.8" y1="511.0" x2="621.8" y2="537.0" stroke="#000" stroke-width="1.69" stroke-dasharray="4,3"/>
<line x1="598.3" y1="569.0" x2="612.0" y2="569.0" stroke="#000" stroke-width="1.82"/>
<rect x="618" y="544" width="9" height="18" rx="3" stroke="#000" stroke-width="1.6" fill="#fff"/>
<line x1="618.0" y1="549.0" x2="627.0" y2="549.0" stroke="#000" stroke-width="1.69"/>
<line x1="618.0" y1="553.5" x2="627.0" y2="553.5" stroke="#000" stroke-width="1.69"/>
<line x1="618.0" y1="558.0" x2="627.0" y2="558.0" stroke="#000" stroke-width="1.69"/>
<path d="M612,565 L614,561 L630,561 L632,565 L632,574 L628,578 L616,578 L612,574 Z" stroke="#000" stroke-width="2.21" fill="#fff" stroke-linejoin="round" stroke-linecap="round" />
<line x1="612.0" y1="568.0" x2="632.0" y2="568.0" stroke="#000" stroke-width="1.69"/>
<line x1="618.0" y1="570.0" x2="618.0" y2="578.0" stroke="#000" stroke-width="1.56"/>
<line x1="626.0" y1="570.0" x2="626.0" y2="578.0" stroke="#000" stroke-width="1.56"/>
<path d="M281.7,456.5 L309.4,472 L331,420.4 L357.5,419 L373,437 L379.5,438 L379,469.7" stroke="#000" stroke-width="1.95" fill="none" stroke-linejoin="round" stroke-linecap="round" />
<path d="M364.7,437.3 L380,438" stroke="#000" stroke-width="1.95" fill="none" stroke-linejoin="round" stroke-linecap="round" />
<path d="M379,469.7 Q360,472 344,477 Q330,482 325,489 Q318,498 315.4,505.8 Q312,512 308,515.4 L293.8,525 L272,541.8 Q268,546 267,551.4 Q262,556 256.5,557.5 Q249,551 243,552.6 Q235,554 231,558.6 Q227,566 227.6,573 Q228,585 231,592" stroke="#000" stroke-width="1.95" fill="none" stroke-linejoin="round" stroke-linecap="round" />
<path d="M277,515.4 L293.8,525" stroke="#000" stroke-width="1.95" fill="none" stroke-linejoin="round" stroke-linecap="round" />
<path d="M379,469.7 Q395,474 404,479 L405.5,478 L421,479 Q433,482 440,489 Q450,498 454.8,508 Q459,520 460.8,534.6 Q462,548 462,553.8 L464.4,555" stroke="#000" stroke-width="1.95" fill="none" stroke-linejoin="round" stroke-linecap="round" />
<path d="M231,592 Q236,600 242,605.5 Q250,600 255,599.5 L265,596 L327.4,606.7" stroke="#000" stroke-width="1.95" fill="none" stroke-linejoin="round" stroke-linecap="round" />
<path d="M365.9,615 Q385,612 404,616 Q420,619 440,624 L465.2,634 L513.6,656.3" stroke="#000" stroke-width="1.95" fill="none" stroke-linejoin="round" stroke-linecap="round" />
<path d="M496.8,579.5 L533.6,599.5 Q540,597 547.3,597.4 L568.3,598.4" stroke="#000" stroke-width="1.95" fill="none" stroke-linejoin="round" stroke-linecap="round" />
<path d="M568.3,598.4 Q580,602 591.5,611" stroke="#000" stroke-width="1.95" fill="none" stroke-linejoin="round" stroke-linecap="round" stroke-dasharray="3,3"/>
<path d="M591.5,611 L602,644.7 L603.3,646.2" stroke="#000" stroke-width="1.95" fill="none" stroke-linejoin="round" stroke-linecap="round" />
<path d="M533.6,599.5 Q525,602 520,608 Q514,616 511.5,625.8" stroke="#000" stroke-width="1.95" fill="none" stroke-linejoin="round" stroke-linecap="round" />
<path d="M522,641.5 L509.4,668.9" stroke="#000" stroke-width="1.95" fill="none" stroke-linejoin="round" stroke-linecap="round" />
<path d="M523,688.9 L512.6,708.9 Q513,716 515.7,719.4 Q520,724 527.3,724.6 L536.8,713 L580,713" stroke="#000" stroke-width="1.95" fill="none" stroke-linejoin="round" stroke-linecap="round" />
<path d="M497.9,692 Q497,700 499,704.7 Q504,708 511.5,708.9" stroke="#000" stroke-width="1.95" fill="none" stroke-linejoin="round" stroke-linecap="round" />
<path d="M660.9,619.2 L666.1,620.0 L671.1,621.3 L676.0,623.0 L680.7,625.2 L685.2,627.8 L689.5,630.8 L693.6,634.1 L697.3,637.8 L700.8,641.9 L704.0,646.3 L706.8,650.9 L709.3,655.9 L711.4,661.0 L713.1,666.4 L714.4,671.9 L715.3,677.5 L715.8,683.3 L715.9,689.1 L715.6,694.9 L714.8,700.7 L713.7,706.5 L712.2,712.1 L710.2,717.7 L707.9,723.1 L705.3,728.4 L702.3,733.4 L698.9,738.1 L695.3,742.6 L691.3,746.8 L687.1,750.6" stroke="#000" stroke-width="2.21" fill="none" stroke-linejoin="round" stroke-linecap="round" />
<path d="M687.1,750.6 L686.3,751.3 L685.4,752.1 L684.5,752.8 L683.6,753.4 L682.7,754.1 L681.8,754.8 L680.9,755.4 L679.9,756.0 L679.0,756.6 L678.1,757.2 L677.1,757.8 L676.1,758.4 L675.2,758.9 L674.2,759.4 L673.2,759.9 L672.3,760.4 L671.3,760.9 L670.3,761.4 L669.3,761.8 L668.3,762.2 L667.3,762.7 L666.2,763.0 L665.2,763.4 L664.2,763.8 L663.2,764.1 L662.2,764.4 L661.1,764.7 L660.1,765.0 L659.0,765.3 L658.0,765.6" stroke="#000" stroke-width="2.08" fill="none" stroke-linejoin="round" stroke-linecap="round" stroke-dasharray="6,4"/>
<path d="M658.0,765.6 L654.2,766.3 L650.4,766.8 L646.6,767.1 L642.8,767.2 L639.0,767.0 L635.2,766.5 L631.5,765.9 L627.9,765.0 L624.3,763.8 L620.8,762.4 L617.4,760.8 L614.1,759.0 L610.9,757.0 L607.8,754.7 L604.9,752.3 L602.1,749.6 L599.4,746.8 L597.0,743.8 L594.6,740.7 L592.5,737.3 L590.6,733.9 L588.8,730.3 L587.2,726.6 L585.9,722.8 L584.7,718.8 L583.8,714.8 L583.0,710.8 L582.5,706.6 L582.2,702.4 L582.1,698.2" stroke="#000" stroke-width="2.21" fill="none" stroke-linejoin="round" stroke-linecap="round" />
<path d="M582.1,698.2 L582.1,696.5 L582.2,694.8 L582.3,693.1 L582.4,691.3 L582.6,689.6 L582.8,687.9 L583.0,686.2 L583.3,684.4 L583.6,682.7 L584.0,681.0 L584.3,679.3 L584.8,677.6 L585.2,675.9 L585.7,674.3 L586.2,672.6 L586.8,671.0 L587.4,669.3 L588.0,667.7 L588.7,666.1 L589.3,664.5 L590.1,662.9 L590.8,661.3 L591.6,659.8 L592.4,658.2 L593.3,656.7 L594.1,655.2 L595.1,653.7 L596.0,652.3 L597.0,650.8 L597.9,649.4" stroke="#000" stroke-width="2.08" fill="none" stroke-linejoin="round" stroke-linecap="round" stroke-dasharray="5,3"/>
<path d="M597.9,649.4 L599.5,647.4 L601.1,645.4 L602.7,643.4 L604.5,641.5 L606.2,639.7 L608.0,637.9 L609.9,636.2 L611.8,634.6 L613.8,633.0 L615.8,631.5 L617.9,630.1 L619.9,628.8 L622.1,627.5 L624.2,626.3 L626.4,625.2 L628.6,624.2 L630.9,623.3 L633.1,622.5 L635.4,621.7 L637.7,621.0 L640.0,620.4 L642.3,619.9 L644.6,619.5 L647.0,619.2 L649.3,619.0 L651.6,618.9 L654.0,618.8 L656.3,618.9 L658.6,619.0 L660.9,619.2" stroke="#000" stroke-width="2.21" fill="none" stroke-linejoin="round" stroke-linecap="round" />
<path d="M580,713 L584,713" stroke="#000" stroke-width="2.08" fill="none" stroke-linejoin="round" stroke-linecap="round" />
<path d="M673.5,632 L690,637" stroke="#000" stroke-width="1.82" fill="none" stroke-linejoin="round" stroke-linecap="round" />
<path d="M610.4,755 L616.7,761.5" stroke="#000" stroke-width="1.82" fill="none" stroke-linejoin="round" stroke-linecap="round" />
<line x1="158.9" y1="404.4" x2="158.9" y2="437.3" stroke="#000" stroke-width="1.82"/>
<path d="M122.8,472.1 L130,472.1 L131.8,460 L139,449.8 L153.5,438.4 L161.9,437.2 L164.3,439 L164.3,445 L167.3,448.6 L164.3,455.3 L159.5,462.5 L159.5,476.9 L153.5,479.3 L140.3,482.9 L133,482.9 Z" stroke="#000" stroke-width="2.34" fill="#fff" stroke-linejoin="round" stroke-linecap="round" />
<path d="M134.8,478 L135.4,461.3 L140.9,452.8 L154.7,442 M154,472 L155.9,459.5 L163,450.4 M159,441 l-0.5,3" stroke="#000" stroke-width="1.95" fill="none" stroke-linejoin="round" stroke-linecap="round" />
<ellipse cx="144.5" cy="463.3" rx="6.2" ry="8.5" stroke="#000" stroke-width="3.12" fill="#fff" transform="rotate(20 144.5 463.3)"/>
<line x1="171.5" y1="448.5" x2="202.4" y2="466.8" stroke="#000" stroke-width="1.82" stroke-dasharray="4,3"/>
<line x1="223.8" y1="443.0" x2="223.8" y2="472.4" stroke="#000" stroke-width="1.82"/>
<g transform="translate(207.0,470.0) rotate(29.1)" stroke="#000" fill="#fff" stroke-width="1.8"><path d="M20.6,-3.5 L2,-3.5 Q-1,-3.5 -1,0 Q-1,3.5 2,3.5 L20.6,3.5"/><path d="M3.5,-3.5 q1.5,3.5 0,7.0" fill="none" stroke-width="1.3"/><path d="M6.7,-3.5 q1.5,3.5 0,7.0" fill="none" stroke-width="1.3"/><ellipse cx="20.6" cy="0" rx="4.0" ry="10.0"/><path d="M21.1,-8.5 L26.6,-8.5 L26.6,8.5 L21.1,8.5" /><ellipse cx="26.6" cy="0" rx="7.5" ry="8.5"/><path d="M23.1,-3.0 L23.1,8.1 M23.1,2.5 L27.6,2.5" fill="none" stroke-width="1.3"/></g>
<line x1="369.4" y1="560.5" x2="369.4" y2="592.5" stroke="#000" stroke-width="1.69"/>
<g transform="translate(422.0,575.0) rotate(152.03)"><rect x="0" y="-5.5" width="164.2" height="11" stroke="#000" stroke-width="1.6" fill="#fff"/></g>
<g transform="translate(286.0,654.6) rotate(10.0)"><path d="M0,-15 L-18,-15 A9.0,15 0 0 0 -18,15 L0,15" stroke="#000" stroke-width="1.8" fill="#fff"/><ellipse cx="0" cy="0" rx="9.3" ry="15" stroke="#000" stroke-width="1.8" fill="#fff"/><ellipse cx="1" cy="0" rx="5.2" ry="8.2" stroke="#000" stroke-width="1.3" fill="none"/><path d="M-1,-6.0 q3,6.0 0,12.0" stroke="#000" stroke-width="1.2" fill="none"/></g>
<g transform="translate(425.0,576.0) rotate(10.0)"><path d="M0,-14.5 L-14,-14.5 A8.7,14.5 0 0 0 -14,14.5 L0,14.5" stroke="#000" stroke-width="1.8" fill="#fff"/><ellipse cx="0" cy="0" rx="9.0" ry="14.5" stroke="#000" stroke-width="1.8" fill="#fff"/><ellipse cx="1" cy="0" rx="5.1" ry="8.0" stroke="#000" stroke-width="1.3" fill="none"/><path d="M-1,-5.8 q3,5.8 0,11.6" stroke="#000" stroke-width="1.2" fill="none"/></g>
<line x1="182.4" y1="623.0" x2="207.0" y2="623.0" stroke="#000" stroke-width="1.82"/>
<path d="M207.0,620.95 Q207.85,615.0 214.65,615.425 L219.75,615.85 Q224.0,619.25 224.0,624.35 Q224.0,631.15 217.2,632.0 L211.25,631.15 Q207.0,628.6 207.0,620.95 Z" stroke="#000" stroke-width="2.21" fill="#fff" stroke-linejoin="round" stroke-linecap="round" />
<path d="M213.8,620.1 L213.8,628.6 M219.75,620.95 q-4,3 0,7" stroke="#000" stroke-width="1.69" fill="none" stroke-linejoin="round" stroke-linecap="round" />
<line x1="242.6" y1="592.5" x2="242.6" y2="624.5" stroke="#000" stroke-width="1.56"/>
<circle cx="243.3" cy="637.3" r="12.5" stroke="#444" stroke-width="1.1" fill="#fff"/>
<text x="234.5" y="644.2" font-family="Liberation Sans" font-size="19.64" textLength="17.2" lengthAdjust="spacingAndGlyphs" fill="#000">W</text>
<g transform="translate(318.0,666.0) rotate(22.4)" stroke="#000" fill="#fff" stroke-width="1.8"><path d="M36.8,-3.5 L2,-3.5 Q-1,-3.5 -1,0 Q-1,3.5 2,3.5 L36.8,3.5"/><path d="M3.5,-3.5 q1.5,3.5 0,7.0" fill="none" stroke-width="1.3"/><path d="M6.7,-3.5 q1.5,3.5 0,7.0" fill="none" stroke-width="1.3"/><ellipse cx="36.8" cy="0" rx="4.4" ry="11.0"/><path d="M37.3,-9.3 L43.4,-9.3 L43.4,9.3 L37.3,9.3" /><ellipse cx="43.4" cy="0" rx="8.2" ry="9.3"/><path d="M39.5,-3.3 L39.5,8.9 M39.5,2.8 L44.5,2.8" fill="none" stroke-width="1.3"/></g>
<line x1="368.5" y1="682.6" x2="380.0" y2="682.6" stroke="#000" stroke-width="1.82"/>
<line x1="340.0" y1="750.0" x2="340.0" y2="779.0" stroke="#000" stroke-width="1.82"/>
<g transform="translate(394.7,728.0) rotate(162.73)"><rect x="0" y="-6.0" width="229.0" height="12" stroke="#000" stroke-width="1.6" fill="#fff"/></g>
<g transform="translate(184.6,797.5) rotate(-10.0)"><path d="M0,-15 L-18,-15 A9.0,15 0 0 0 -18,15 L0,15" stroke="#000" stroke-width="1.8" fill="#fff"/><ellipse cx="0" cy="0" rx="9.3" ry="15" stroke="#000" stroke-width="1.8" fill="#fff"/><ellipse cx="1" cy="0" rx="5.2" ry="8.2" stroke="#000" stroke-width="1.3" fill="none"/><path d="M-1,-6.0 q3,6.0 0,12.0" stroke="#000" stroke-width="1.2" fill="none"/></g>
<g transform="translate(401.2,727.2) rotate(-10.0)"><path d="M0,-15 L-16,-15 A9.0,15 0 0 0 -16,15 L0,15" stroke="#000" stroke-width="1.8" fill="#fff"/><ellipse cx="0" cy="0" rx="9.3" ry="15" stroke="#000" stroke-width="1.8" fill="#fff"/><ellipse cx="1" cy="0" rx="5.2" ry="8.2" stroke="#000" stroke-width="1.3" fill="none"/><path d="M-1,-6.0 q3,6.0 0,12.0" stroke="#000" stroke-width="1.2" fill="none"/></g>
<line x1="111.6" y1="730.0" x2="111.6" y2="754.6" stroke="#000" stroke-width="1.69"/>
<path d="M99.3,760.15 Q100.25,753.5 107.85,753.975 L113.55,754.45 Q118.3,758.25 118.3,763.95 Q118.3,771.55 110.7,772.5 L104.05,771.55 Q99.3,768.7 99.3,760.15 Z" stroke="#000" stroke-width="2.21" fill="#fff" stroke-linejoin="round" stroke-linecap="round" />
<path d="M106.89999999999999,759.2 L106.89999999999999,768.7 M113.55,760.15 q-4,3 0,7" stroke="#000" stroke-width="1.69" fill="none" stroke-linejoin="round" stroke-linecap="round" />
<circle cx="140.5" cy="780.5" r="12.2" stroke="#444" stroke-width="1.1" fill="#fff"/>
<text x="131.9" y="787.2" font-family="Liberation Sans" font-size="19.17" textLength="16.8" lengthAdjust="spacingAndGlyphs" fill="#000">W</text>
<line x1="140.5" y1="794.0" x2="140.5" y2="823.0" stroke="#000" stroke-width="1.56"/>
<g transform="translate(224.0,815.0) rotate(23.0)" stroke="#000" fill="#fff" stroke-width="1.8"><path d="M35.8,-3.5 L2,-3.5 Q-1,-3.5 -1,0 Q-1,3.5 2,3.5 L35.8,3.5"/><path d="M3.5,-3.5 q1.5,3.5 0,7.0" fill="none" stroke-width="1.3"/><path d="M6.7,-3.5 q1.5,3.5 0,7.0" fill="none" stroke-width="1.3"/><ellipse cx="35.8" cy="0" rx="4.4" ry="11.0"/><path d="M36.4,-9.3 L42.4,-9.3 L42.4,9.3 L36.4,9.3" /><ellipse cx="42.4" cy="0" rx="8.2" ry="9.3"/><path d="M38.6,-3.3 L38.6,8.9 M38.6,2.8 L43.5,2.8" fill="none" stroke-width="1.3"/></g>
<line x1="254.7" y1="838.0" x2="254.7" y2="865.7" stroke="#000" stroke-width="1.82"/>
<rect x="308.8" y="779" width="108.6" height="42.7" fill="#7ccbf2"/>
<circle cx="799.6" cy="76.0" r="12.2" stroke="#444" stroke-width="1.1" fill="#fff"/>
<text x="791.0" y="82.7" font-family="Liberation Sans" font-size="19.17" textLength="16.8" lengthAdjust="spacingAndGlyphs" fill="#000">N</text>
<line x1="813.0" y1="75.0" x2="826.6" y2="75.0" stroke="#000" stroke-width="1.69"/>
<path d="M981,76.6 L989,76.6 L989,495 L976.5,496" stroke="#000" stroke-width="1.95" fill="none" stroke-linejoin="round" stroke-linecap="round" />
<line x1="953.5" y1="137.0" x2="989.0" y2="137.0" stroke="#000" stroke-width="1.69"/>
<line x1="956.0" y1="217.0" x2="989.0" y2="217.0" stroke="#000" stroke-width="1.82"/>
<line x1="818.0" y1="410.0" x2="989.0" y2="410.0" stroke="#000" stroke-width="1.82"/>
<line x1="989.0" y1="286.7" x2="996.0" y2="286.7" stroke="#000" stroke-width="1.69"/>
<line x1="765.0" y1="111.0" x2="790.0" y2="111.0" stroke="#000" stroke-width="1.69"/>
<path d="M789.5,108.0 L789.5,111.0 A13.5,6.5 0 0 0 816.5,111.0 L816.5,108.0" stroke="#000" stroke-width="1.7" fill="#fff"/>
<ellipse cx="803.0" cy="108.0" rx="13.5" ry="6.5" stroke="#000" stroke-width="2.21" fill="#fff"/>
<path d="M799.0,107.0 q4,2 8,0" stroke="#000" stroke-width="1.56" fill="none" stroke-linejoin="round" stroke-linecap="round" />
<line x1="813.6" y1="136.8" x2="881.0" y2="136.8" stroke="#000" stroke-width="1.82"/>
<path d="M792.2,133.0 L792.2,142.0 A10.8,5.0 0 0 0 813.8,142.0 L813.8,133.0" stroke="#000" stroke-width="1.7" fill="#fff"/>
<ellipse cx="803.0" cy="133.0" rx="10.8" ry="5.0" stroke="#000" stroke-width="2.21" fill="#fff"/>
<path d="M799.0,132.0 q4,2 8,0" stroke="#000" stroke-width="1.56" fill="none" stroke-linejoin="round" stroke-linecap="round" />
<line x1="766.0" y1="160.7" x2="790.0" y2="160.7" stroke="#000" stroke-width="1.69"/>
<path d="M789.5,160.0 L789.5,164.0 A13.5,6.5 0 0 0 816.5,164.0 L816.5,160.0" stroke="#000" stroke-width="1.7" fill="#fff"/>
<ellipse cx="803.0" cy="160.0" rx="13.5" ry="6.5" stroke="#000" stroke-width="2.21" fill="#fff"/>
<path d="M799.0,159.0 q4,2 8,0" stroke="#000" stroke-width="1.56" fill="none" stroke-linejoin="round" stroke-linecap="round" />
<line x1="767.5" y1="192.0" x2="790.0" y2="192.0" stroke="#000" stroke-width="2.08"/>
<path d="M789.5,195.0 L789.5,198.0 A13.5,5.5 0 0 0 816.5,198.0 L816.5,195.0" stroke="#000" stroke-width="1.7" fill="#fff"/>
<ellipse cx="803.0" cy="195.0" rx="13.5" ry="5.5" stroke="#000" stroke-width="2.21" fill="#fff"/>
<path d="M799.0,194.0 q4,2 8,0" stroke="#000" stroke-width="1.56" fill="none" stroke-linejoin="round" stroke-linecap="round" />
<path d="M795,192 L797,185 Q803,182 809,185 L811,192" stroke="#000" stroke-width="2.08" fill="#fff" stroke-linejoin="round" stroke-linecap="round" />
<line x1="814.4" y1="217.0" x2="881.0" y2="217.0" stroke="#000" stroke-width="1.82"/>
<path d="M792.0,213.5 L792.0,222.5 A11.0,5.0 0 0 0 814.0,222.5 L814.0,213.5" stroke="#000" stroke-width="1.7" fill="#fff"/>
<ellipse cx="803.0" cy="213.5" rx="11.0" ry="5.0" stroke="#000" stroke-width="2.21" fill="#fff"/>
<path d="M799.0,212.5 q4,2 8,0" stroke="#000" stroke-width="1.56" fill="none" stroke-linejoin="round" stroke-linecap="round" />
<line x1="771.0" y1="244.5" x2="790.0" y2="244.5" stroke="#000" stroke-width="1.69"/>
<path d="M789.5,242.5 L789.5,246.5 A13.5,6.5 0 0 0 816.5,246.5 L816.5,242.5" stroke="#000" stroke-width="1.7" fill="#fff"/>
<ellipse cx="803.0" cy="242.5" rx="13.5" ry="6.5" stroke="#000" stroke-width="2.21" fill="#fff"/>
<path d="M799.0,241.5 q4,2 8,0" stroke="#000" stroke-width="1.56" fill="none" stroke-linejoin="round" stroke-linecap="round" />
<path d="M788.4,317 L788.4,392 M815.6,317 L815.6,392" stroke="#000" stroke-width="2.21" fill="none" stroke-linejoin="round" stroke-linecap="round" />
<path d="M787.5,306 L787.5,317 A14.5,5.5 0 0 0 816.5,317 L816.5,306" stroke="#000" stroke-width="2.2" fill="#fff"/>
<ellipse cx="802.0" cy="306.0" rx="14.5" ry="5.5" stroke="#000" stroke-width="2.21" fill="#fff"/>
<rect x="799" y="264.5" width="8.7" height="43" rx="4" stroke="#000" stroke-width="2.2" fill="#fff"/>
<line x1="799.0" y1="275.0" x2="807.7" y2="275.0" stroke="#000" stroke-width="1.56"/>
<line x1="799.0" y1="279.0" x2="807.7" y2="279.0" stroke="#000" stroke-width="1.56"/>
<path d="M790,311 l4,1 M810,313 l4,-1" stroke="#000" stroke-width="1.56" fill="none" stroke-linejoin="round" stroke-linecap="round" />
<path d="M782.8,392 Q800,387 818,392 L818,441 Q800,445 782.8,441 Z" stroke="#000" stroke-width="2.21" fill="#fff" stroke-linejoin="round" stroke-linecap="round" />
<path d="M785.6,441.7 L785.6,489 M815,441.7 L815,489" stroke="#000" stroke-width="2.21" fill="none" stroke-linejoin="round" stroke-linecap="round" />
<path d="M783.6,489 Q800,485 816.5,489 L816.5,505 Q800,509 783.6,505 Z" stroke="#000" stroke-width="2.21" fill="#fff" stroke-linejoin="round" stroke-linecap="round" />
<path d="M791,506.5 L806,505.5 Q814,508 814,517 Q814,528 806,530 L791,530 Z" stroke="#000" stroke-width="2.21" fill="#fff" stroke-linejoin="round" stroke-linecap="round" />
<ellipse cx="791.0" cy="518.0" rx="7.5" ry="11.8" stroke="#000" stroke-width="2.21" fill="#fff"/>
<path d="M796,510 q3,8 0,17 M806,508 q2,10 -1,20" stroke="#000" stroke-width="1.56" fill="none" stroke-linejoin="round" stroke-linecap="round" />
<line x1="861.0" y1="496.5" x2="900.7" y2="496.5" stroke="#000" stroke-width="2.34"/>
<g stroke="#000" stroke-width="1.8" fill="#fff"><path d="M838,487 L856,489 Q863,496 862,503 Q860,513 852,516 L838,516 Z"/><ellipse cx="838.5" cy="501.5" rx="8" ry="14.5"/><path d="M836,495 q-4,6 0,13 M841,494 q4,8 0,16" fill="none" stroke-width="1.3"/></g>
<g stroke="#000" stroke-width="2.1" fill="#fff"><path d="M750,519.5 L770,518 Q774.5,518.5 774.5,522.5 Q774.5,527 770,527.3 L750,528.8 Z"/><path d="M764,518.5 q2,4.5 0,9 M767.5,518.3 q2,4.5 0,9" fill="none" stroke-width="1.5"/><ellipse cx="745" cy="527.5" rx="7" ry="14.3"/><path d="M744,520 L735,521 L735,540 L744,539 Z" stroke="none"/><path d="M744,519.5 L735,521.5 M744,539.5 L735,540" fill="none"/><ellipse cx="735.5" cy="530.6" rx="8.3" ry="9.3"/><path d="M737,524 L737,537 M737,530 L741,530" fill="none" stroke-width="1.5"/></g>
<line x1="743.5" y1="541.0" x2="743.5" y2="562.0" stroke="#000" stroke-width="1.69"/>
<circle cx="878.0" cy="600.0" r="12.3" stroke="#444" stroke-width="1.1" fill="#fff"/>
<text x="869.4" y="606.8" font-family="Liberation Sans" font-size="19.33" textLength="16.9" lengthAdjust="spacingAndGlyphs" fill="#000">N</text>
<line x1="842.3" y1="599.0" x2="865.6" y2="599.0" stroke="#000" stroke-width="1.56" stroke-dasharray="2,1"/>
<line x1="836.7" y1="630.7" x2="865.0" y2="630.7" stroke="#000" stroke-width="1.82"/>
<path d="M864.3,628.0 L864.3,631.0 A12.7,6.5 0 0 0 889.7,631.0 L889.7,628.0" stroke="#000" stroke-width="1.7" fill="#fff"/>
<ellipse cx="877.0" cy="628.0" rx="12.7" ry="6.5" stroke="#000" stroke-width="2.21" fill="#fff"/>
<path d="M873.0,627.0 q4,2 8,0" stroke="#000" stroke-width="1.56" fill="none" stroke-linejoin="round" stroke-linecap="round" />
<line x1="836.7" y1="662.0" x2="866.0" y2="662.0" stroke="#000" stroke-width="1.82"/>
<path d="M866.3,657.0 L866.3,666.0 A11.7,5.5 0 0 0 889.7,666.0 L889.7,657.0" stroke="#000" stroke-width="1.7" fill="#fff"/>
<ellipse cx="878.0" cy="657.0" rx="11.7" ry="5.5" stroke="#000" stroke-width="2.21" fill="#fff"/>
<path d="M874.0,656.0 q4,2 8,0" stroke="#000" stroke-width="1.56" fill="none" stroke-linejoin="round" stroke-linecap="round" />
<line x1="824.5" y1="695.4" x2="849.0" y2="695.0" stroke="#000" stroke-width="1.69" stroke-dasharray="2,1"/>
<path d="M846.8,675.6 L856.2,675.3 L856.2,679 L861.4,684.3 L868.5,685 L876.8,691.8 L879,712 L881,718.8 L883.6,698.5 L891.1,697 L891.8,687.3 L901.6,685.8 L904.2,691.8 L912.9,692.5 L914.4,724 L914.4,733 L885,737.6 L875.3,740.6 L864.8,733.9 L853.5,722.6 L852.4,700 L848.3,692.5 L846.8,688.8 L849,685.8 L846.8,679 Z" stroke="#000" stroke-width="2.34" fill="#fff" stroke-linejoin="round" stroke-linecap="round" />
<path d="M914.4,724 L923.4,731.6" stroke="#000" stroke-width="1.95" fill="none" stroke-linejoin="round" stroke-linecap="round" />
<path d="M881,718.8 L885,737.6 M891,700 L885.8,736" stroke="#000" stroke-width="2.21" fill="none" stroke-linejoin="round" stroke-linecap="round" />
<path d="M861.5,696 L874.5,694 M861,719 L873,716.5 M868,704 q-4,0 -3,6 M898,697 q-4,0 -3,5 M899,715 q-4,0 -3,5 M898,728 q-4,0 -3,5 M906,698 L908,722 L902,718 M876,724 q3,3 -1,7 L871,733" stroke="#000" stroke-width="1.95" fill="none" stroke-linejoin="round" stroke-linecap="round" />
<line x1="830.0" y1="759.0" x2="862.7" y2="759.0" stroke="#000" stroke-width="1.82"/>
<path d="M862.7,760.0 L862.7,765.0 A13.3,6.5 0 0 0 889.3,765.0 L889.3,760.0" stroke="#000" stroke-width="1.7" fill="#fff"/>
<ellipse cx="876.0" cy="760.0" rx="13.3" ry="6.5" stroke="#000" stroke-width="2.21" fill="#fff"/>
<path d="M872.0,759.0 q4,2 8,0" stroke="#000" stroke-width="1.56" fill="none" stroke-linejoin="round" stroke-linecap="round" />
<path d="M869,757 L870,752 Q876,750 882,752 L883,757" stroke="#000" stroke-width="1.95" fill="#fff" stroke-linejoin="round" stroke-linecap="round" />
<line x1="833.0" y1="789.5" x2="864.0" y2="789.5" stroke="#000" stroke-width="1.82"/>
<path d="M864.2,785.0 L864.2,795.0 A11.8,5.5 0 0 0 887.8,795.0 L887.8,785.0" stroke="#000" stroke-width="1.7" fill="#fff"/>
<ellipse cx="876.0" cy="785.0" rx="11.8" ry="5.5" stroke="#000" stroke-width="2.21" fill="#fff"/>
<path d="M872.0,784.0 q4,2 8,0" stroke="#000" stroke-width="1.56" fill="none" stroke-linejoin="round" stroke-linecap="round" />
<line x1="833.0" y1="816.0" x2="862.0" y2="816.0" stroke="#000" stroke-width="1.82"/>
<path d="M862.0,814.0 L862.0,817.0 A13.0,6.5 0 0 0 888.0,817.0 L888.0,814.0" stroke="#000" stroke-width="1.7" fill="#fff"/>
<ellipse cx="875.0" cy="814.0" rx="13.0" ry="6.5" stroke="#000" stroke-width="2.21" fill="#fff"/>
<path d="M871.0,813.0 q4,2 8,0" stroke="#000" stroke-width="1.56" fill="none" stroke-linejoin="round" stroke-linecap="round" />
<line x1="931.0" y1="555.0" x2="931.0" y2="596.0" stroke="#000" stroke-width="1.69"/>
<g transform="translate(971.0,597.0) rotate(166.0)" stroke="#000" fill="#fff" stroke-width="1.8"><path d="M41.2,-4.0 L2,-4.0 Q-1,-4.0 -1,0 Q-1,4.0 2,4.0 L41.2,4.0"/><path d="M3.5,-4.0 q1.5,4.0 0,8.0" fill="none" stroke-width="1.3"/><path d="M6.7,-4.0 q1.5,4.0 0,8.0" fill="none" stroke-width="1.3"/><path d="M9.9,-4.0 q1.5,4.0 0,8.0" fill="none" stroke-width="1.3"/><path d="M13.1,-4.0 q1.5,4.0 0,8.0" fill="none" stroke-width="1.3"/><ellipse cx="41.2" cy="0" rx="4.4" ry="11.0"/><path d="M41.8,-9.3 L47.8,-9.3 L47.8,9.3 L41.8,9.3" /><ellipse cx="47.8" cy="0" rx="8.2" ry="9.3"/><path d="M44.0,-3.3 L44.0,8.9 M44.0,2.8 L48.9,2.8" fill="none" stroke-width="1.3"/></g>
<line x1="985.0" y1="708.7" x2="985.0" y2="762.0" stroke="#000" stroke-width="1.69"/>
<line x1="915.3" y1="727.0" x2="951.8" y2="746.8" stroke="#000" stroke-width="1.69" stroke-dasharray="5,6"/>
<g transform="translate(960.0,754.0) rotate(28.3)" stroke="#000" fill="#fff" stroke-width="1.8"><path d="M29.5,-3.8 L2,-3.8 Q-1,-3.8 -1,0 Q-1,3.8 2,3.8 L29.5,3.8"/><path d="M3.5,-3.8 q1.5,3.8 0,7.5" fill="none" stroke-width="1.3"/><path d="M6.7,-3.8 q1.5,3.8 0,7.5" fill="none" stroke-width="1.3"/><ellipse cx="29.5" cy="0" rx="4.0" ry="10.0"/><path d="M30.0,-8.5 L35.5,-8.5 L35.5,8.5 L30.0,8.5" /><ellipse cx="35.5" cy="0" rx="7.5" ry="8.5"/><path d="M32.0,-3.0 L32.0,8.1 M32.0,2.5 L36.5,2.5" fill="none" stroke-width="1.3"/></g>
<path d="M914.9,755 L1005,802 Q1016,808 1015.8,816 Q1015,824 1011,833 L1002,854.6 Q997,864 987,865.8 L944.8,867 Q936,866 929.8,860.8 Q925,856 921,854.6" stroke="#000" stroke-width="2.21" fill="none" stroke-linejoin="round" stroke-linecap="round" />
<path d="M907.4,763.7 L1000,810 Q1006,814 1004.6,819 L989.6,852 Q986,856 979.7,855.8 L941,855.8 Q937,855 933.6,849.6 Q928,846 912.4,852" stroke="#000" stroke-width="2.21" fill="none" stroke-linejoin="round" stroke-linecap="round" />
<path d="M903,858 Q905,851 913,851 L921,853 Q926,858 923,865 Q918,869 910,868 Q903,866 903,858 Z" stroke="#000" stroke-width="2.21" fill="#fff" stroke-linejoin="round" stroke-linecap="round" />
<path d="M909,857 q-2,4 1,7" stroke="#000" stroke-width="1.56" fill="none" stroke-linejoin="round" stroke-linecap="round" />
<path d="M1005.8,847.6 L1149,848.4 L1149,907 L1141.6,907" stroke="#000" stroke-width="1.82" fill="none" stroke-linejoin="round" stroke-linecap="round" />
<line x1="1130.4" y1="882.0" x2="1156.0" y2="882.0" stroke="#000" stroke-width="1.82"/>
<line x1="962.0" y1="880.8" x2="995.0" y2="880.8" stroke="#000" stroke-width="1.82"/>
<g transform="translate(955,886) rotate(25)"><rect x="-10" y="-8.5" width="18" height="17" rx="6" stroke="#000" stroke-width="1.7" fill="#fff"/><ellipse cx="8" cy="0" rx="5" ry="8.5" stroke="#000" stroke-width="1.7" fill="#fff"/></g>
<line x1="993.0" y1="905.7" x2="1004.6" y2="905.7" stroke="#000" stroke-width="2.08"/>
<g transform="translate(985,904) rotate(30)"><rect x="-11" y="-6" width="22" height="12" rx="5" stroke="#000" stroke-width="1.7" fill="#fff"/><ellipse cx="-8" cy="0" rx="3.5" ry="6" stroke="#000" stroke-width="1.5" fill="#fff"/></g>
<g transform="translate(1019.0,922.0) rotate(25.8)" stroke="#000" fill="#fff" stroke-width="1.8"><path d="M34.4,-3.8 L2,-3.8 Q-1,-3.8 -1,0 Q-1,3.8 2,3.8 L34.4,3.8"/><path d="M3.5,-3.8 q1.5,3.8 0,7.5" fill="none" stroke-width="1.3"/><path d="M6.7,-3.8 q1.5,3.8 0,7.5" fill="none" stroke-width="1.3"/><ellipse cx="34.4" cy="0" rx="4.0" ry="10.0"/><path d="M34.9,-8.5 L40.4,-8.5 L40.4,8.5 L34.9,8.5" /><ellipse cx="40.4" cy="0" rx="7.5" ry="8.5"/><path d="M36.9,-3.0 L36.9,8.1 M36.9,2.5 L41.4,2.5" fill="none" stroke-width="1.3"/></g>
<line x1="1064.4" y1="935.6" x2="1090.5" y2="935.6" stroke="#000" stroke-width="1.69"/>
<line x1="838.4" y1="868.5" x2="869.5" y2="868.5" stroke="#000" stroke-width="1.95"/>
<rect x="869.5" y="849" width="11.5" height="75" rx="2" stroke="#000" stroke-width="1.7" fill="#fff"/>
<line x1="869.5" y1="853.0" x2="881.0" y2="853.0" stroke="#000" stroke-width="1.56"/>
<line x1="869.5" y1="857.0" x2="881.0" y2="857.0" stroke="#000" stroke-width="1.56"/>
<line x1="869.5" y1="861.0" x2="881.0" y2="861.0" stroke="#000" stroke-width="1.56"/>
<line x1="869.5" y1="865.0" x2="881.0" y2="865.0" stroke="#000" stroke-width="1.56"/>
<path d="M864.3,926 L870,918 L885,918 L889.2,926 L889.2,946 L880,950 L866,946 Z" stroke="#000" stroke-width="2.21" fill="#fff" stroke-linejoin="round" stroke-linecap="round" />
<path d="M864.3,926 L880,930 L889.2,926 M880,930 L880,950" stroke="#000" stroke-width="1.82" fill="none" stroke-linejoin="round" stroke-linecap="round" />
<line x1="894.4" y1="853.3" x2="894.4" y2="948.8" stroke="#000" stroke-width="2.08" stroke-dasharray="6,3"/>
<line x1="894.4" y1="853.3" x2="899.0" y2="853.3" stroke="#000" stroke-width="1.82"/>
<line x1="794.8" y1="910.8" x2="819.7" y2="911.4" stroke="#000" stroke-width="1.56" stroke-dasharray="2,1"/>
<circle cx="832.1" cy="912.5" r="12.5" stroke="#444" stroke-width="1.1" fill="#fff"/>
<text x="823.3" y="919.4" font-family="Liberation Sans" font-size="19.64" textLength="17.2" lengthAdjust="spacingAndGlyphs" fill="#000">N</text>
<line x1="850.8" y1="921.8" x2="859.1" y2="927.0" stroke="#000" stroke-width="1.69"/>
<line x1="1092.6" y1="757.7" x2="1109.2" y2="757.7" stroke="#000" stroke-width="1.95"/>
<path d="M1063.8,754.4 L1070.5,750 L1081.5,748.9 L1090.4,755.5 L1092.6,763.3 L1088.2,773.2 L1080.4,775.4 L1071.6,772.1 L1064.9,765.5 Z" stroke="#000" stroke-width="2.34" fill="#fff" stroke-linejoin="round" stroke-linecap="round" />
<path d="M1072,756 q-3,5 0,11 M1080,759 q-4,4 -1,12 M1082,760 l5,-2 M1081.5,748.9 L1091,757" stroke="#000" stroke-width="1.82" fill="none" stroke-linejoin="round" stroke-linecap="round" />
<line x1="1100.4" y1="799.8" x2="1110.3" y2="799.8" stroke="#000" stroke-width="1.82"/>
<path d="M1051.6,803.7 L1063.8,798.7 L1074.9,804.2 L1074.9,817.5 Z" stroke="#000" stroke-width="2.21" fill="#fff" stroke-linejoin="round" stroke-linecap="round" />
<path d="M1074.9,817.5 L1077.1,795.4 L1089.3,791.5 L1100.4,797.6 L1091.5,804.2 L1088.2,817.5 L1081.5,821.4 Z" stroke="#000" stroke-width="2.21" fill="#fff" stroke-linejoin="round" stroke-linecap="round" />
<path d="M1077.1,795.4 L1089,801 L1091.5,804.2" stroke="#000" stroke-width="1.69" fill="none" stroke-linejoin="round" stroke-linecap="round" />
<circle cx="1063" cy="803" r="1.1" fill="#000"/><circle cx="1087" cy="796.5" r="1.1" fill="#000"/>
<path d="M1088.2,817.5 L1088.2,824.2 L1173.5,802.6 L1187.9,799.8 L1187.9,806.4" stroke="#000" stroke-width="1.82" fill="none" stroke-linejoin="round" stroke-linecap="round" stroke-dasharray="5,3"/>
<rect x="1184" y="813.6" width="8.3" height="15" rx="3.5" stroke="#000" stroke-width="1.7" fill="#fff"/>
<line x1="1184.0" y1="819.0" x2="1192.3" y2="819.0" stroke="#000" stroke-width="1.69"/>
<line x1="1184.0" y1="823.0" x2="1192.3" y2="823.0" stroke="#000" stroke-width="1.69"/>
<path d="M1178.4,830 L1181,826.4 L1194,826.4 L1196.7,830 L1196.7,838 L1193,840.8 L1182,840.8 L1178.4,838 Z" stroke="#000" stroke-width="2.34" fill="#fff" stroke-linejoin="round" stroke-linecap="round" />
<line x1="1178.4" y1="833.0" x2="1196.7" y2="833.0" stroke="#000" stroke-width="1.69"/>
<line x1="1184.0" y1="834.0" x2="1184.0" y2="840.8" stroke="#000" stroke-width="1.56"/>
<line x1="1191.0" y1="834.0" x2="1191.0" y2="840.8" stroke="#000" stroke-width="1.56"/>
<line x1="1196.7" y1="836.0" x2="1217.6" y2="836.0" stroke="#000" stroke-width="2.08"/>
<g transform="translate(1011.0,596.0) rotate(35.99)"><rect x="0" y="-5.75" width="338.6" height="11.5" stroke="#000" stroke-width="1.6" fill="#fff"/></g>
<path d="M984.5,586.5 L988,579.5 L995,578 L1002,576 L1007.5,576.3 L1013,581.5 L1016,589 L1015,595 L1011.5,599 L1009.5,602.6 L1001,602.6 L996.5,604.6 L991,603 L986,596 Z" stroke="#000" stroke-width="2.34" fill="#fff" stroke-linejoin="round" stroke-linecap="round" />
<ellipse cx="992.5" cy="593.5" rx="7.0" ry="10.0" stroke="#000" stroke-width="2.34" fill="#fff" transform="rotate(-15 992.5 593.5)"/>
<path d="M989,588 q-3,6 1,12" stroke="#000" stroke-width="1.82" fill="none" stroke-linejoin="round" stroke-linecap="round" />
<ellipse cx="1009.0" cy="594.0" rx="5.0" ry="7.0" stroke="#000" stroke-width="2.08" fill="#fff" transform="rotate(35 1009 594)"/>
<path d="M1313,800 Q1314,812 1305,816 L1296,815 Q1287,812 1285,800 Q1284,789 1292,786 L1302,786 Q1312,789 1313,800 Z" stroke="#000" stroke-width="2.34" fill="#fff" stroke-linejoin="round" stroke-linecap="round" />
<ellipse cx="1291.5" cy="801.0" rx="7.0" ry="11.5" stroke="#000" stroke-width="2.34" fill="#fff" transform="rotate(-10 1291.5 801)"/>
<ellipse cx="1291.0" cy="802.0" rx="3.5" ry="5.5" stroke="#000" stroke-width="1.82" fill="none"/>
<path d="M1268,779 L1276,782 L1272,787" stroke="#000" stroke-width="1.69" fill="none" stroke-linejoin="round" stroke-linecap="round" />
<line x1="1090.5" y1="661.5" x2="1090.5" y2="703.6" stroke="#000" stroke-width="1.69"/>
<path d="M1112.5,553.15 Q1113.45,546.5 1121.05,546.975 L1126.75,547.45 Q1131.5,551.25 1131.5,556.95 Q1131.5,564.55 1123.9,565.5 L1117.25,564.55 Q1112.5,561.7 1112.5,553.15 Z" stroke="#000" stroke-width="2.21" fill="#fff" stroke-linejoin="round" stroke-linecap="round" />
<path d="M1120.1,552.2 L1120.1,561.7 M1126.75,553.15 q-4,3 0,7" stroke="#000" stroke-width="1.69" fill="none" stroke-linejoin="round" stroke-linecap="round" />
<line x1="1131.9" y1="555.3" x2="1151.0" y2="555.3" stroke="#000" stroke-width="1.95"/>
<circle cx="1058.2" cy="574.9" r="12.0" stroke="#444" stroke-width="1.1" fill="#fff"/>
<text x="1049.8" y="581.5" font-family="Liberation Sans" font-size="18.86" textLength="16.5" lengthAdjust="spacingAndGlyphs" fill="#000">W</text>
<path d="M1072,586 L1081,591.4 L1089.8,591.4" stroke="#000" stroke-width="1.56" fill="none" stroke-linejoin="round" stroke-linecap="round" />
<path d="M1320,731.7 L1321,740 L1352,781" stroke="#000" stroke-width="1.69" fill="none" stroke-linejoin="round" stroke-linecap="round" />
<g transform="translate(1331.0,790.0) rotate(-12.4)" stroke="#000" fill="#fff" stroke-width="1.8"><path d="M42.0,-4.0 L2,-4.0 Q-1,-4.0 -1,0 Q-1,4.0 2,4.0 L42.0,4.0"/><path d="M3.5,-4.0 q1.5,4.0 0,8.0" fill="none" stroke-width="1.3"/><path d="M6.7,-4.0 q1.5,4.0 0,8.0" fill="none" stroke-width="1.3"/><path d="M9.9,-4.0 q1.5,4.0 0,8.0" fill="none" stroke-width="1.3"/><path d="M13.1,-4.0 q1.5,4.0 0,8.0" fill="none" stroke-width="1.3"/><path d="M16.3,-4.0 q1.5,4.0 0,8.0" fill="none" stroke-width="1.3"/><ellipse cx="42.0" cy="0" rx="4.4" ry="11.0"/><path d="M42.5,-9.3 L48.6,-9.3 L48.6,9.3 L42.5,9.3" /><ellipse cx="48.6" cy="0" rx="8.2" ry="9.3"/><path d="M44.7,-3.3 L44.7,8.9 M44.7,2.8 L49.7,2.8" fill="none" stroke-width="1.3"/></g>
<path d="M143.0,93.0L156.0,104.0M156.0,93.0L143.0,104.0" stroke="#000" stroke-width="1.3" fill="none"/>
<circle cx="149.5" cy="94.5" r="1.2" fill="#000"/>
<circle cx="149.5" cy="102.5" r="1.2" fill="#000"/>
<circle cx="145.5" cy="98.5" r="1.2" fill="#000"/>
<circle cx="153.5" cy="98.5" r="1.2" fill="#000"/>
<text x="157.9" y="104.5" font-family="Liberation Sans" font-size="17.86" textLength="10.6" lengthAdjust="spacingAndGlyphs" fill="#000">5</text>
<text x="278.4" y="205.0" font-family="Liberation Sans" font-size="17.14" textLength="10.0" lengthAdjust="spacingAndGlyphs" fill="#000">H</text>
<g font-family="Liberation Serif" font-weight="bold" font-size="20.00" text-anchor="middle" fill="#000"><text transform="translate(387.36,120.0) scale(0.890,1)" stroke="#000" stroke-width="0.32">4</text><text transform="translate(398.29,120.0) scale(0.951,1)" stroke="#000" stroke-width="0.30">8</text><text transform="translate(409.30,120.0) scale(0.996,1)" stroke="#000" stroke-width="0.30">2</text><text transform="translate(420.30,120.0) scale(0.996,1)" stroke="#000" stroke-width="0.30">5</text><text transform="translate(430.91,120.0) scale(0.996,1)" stroke="#000" stroke-width="0.30">7</text><text transform="translate(442.47,120.0) scale(0.826,1)" stroke="#000" stroke-width="0.42">C</text><text transform="translate(453.23,120.0) scale(1.101,1)" stroke="#000" stroke-width="0.00">(</text><text transform="translate(464.09,120.0) scale(0.698,1)" stroke="#000" stroke-width="0.62">R</text><text transform="translate(475.31,120.0) scale(0.669,1)" stroke="#000" stroke-width="0.67">H</text><text transform="translate(486.57,120.0) scale(1.058,1)" stroke="#000" stroke-width="0.00">)</text></g>
<g font-family="Liberation Serif" font-weight="bold" font-size="20.00" text-anchor="middle" fill="#000"><text transform="translate(387.36,140.0) scale(0.890,1)" stroke="#000" stroke-width="0.32">4</text><text transform="translate(398.29,140.0) scale(0.951,1)" stroke="#000" stroke-width="0.30">8</text><text transform="translate(409.30,140.0) scale(0.996,1)" stroke="#000" stroke-width="0.30">2</text><text transform="translate(420.30,140.0) scale(0.996,1)" stroke="#000" stroke-width="0.30">5</text><text transform="translate(431.41,140.0) scale(0.973,1)" stroke="#000" stroke-width="0.30">9</text><text transform="translate(442.29,140.0) scale(0.708,1)" stroke="#000" stroke-width="0.61">A</text><text transform="translate(453.23,140.0) scale(1.101,1)" stroke="#000" stroke-width="0.00">(</text><text transform="translate(464.56,140.0) scale(0.812,1)" stroke="#000" stroke-width="0.44">L</text><text transform="translate(475.31,140.0) scale(0.669,1)" stroke="#000" stroke-width="0.67">H</text><text transform="translate(486.57,140.0) scale(1.058,1)" stroke="#000" stroke-width="0.00">)</text></g>
<g font-family="Liberation Serif" font-weight="bold" font-size="20.62" text-anchor="middle" fill="#000"><text transform="translate(448.41,225.4) scale(0.873,1)" stroke="#000" stroke-width="0.34">4</text><text transform="translate(459.46,225.4) scale(0.933,1)" stroke="#000" stroke-width="0.30">8</text><text transform="translate(470.50,225.4) scale(0.955,1)" stroke="#000" stroke-width="0.30">3</text><text transform="translate(481.45,225.4) scale(0.905,1)" stroke="#000" stroke-width="0.30">1</text><text transform="translate(492.77,225.4) scale(0.955,1)" stroke="#000" stroke-width="0.30">3</text></g>
<g font-family="Liberation Serif" font-weight="bold" font-size="17.23" text-anchor="middle" fill="#000"><text transform="translate(402.84,293.0) scale(0.990,1)" stroke="#000" stroke-width="0.05">9</text><text transform="translate(412.40,293.0) scale(1.013,1)" stroke="#000" stroke-width="0.05">0</text><text transform="translate(421.80,293.0) scale(0.938,1)" stroke="#000" stroke-width="0.05">1</text><text transform="translate(431.45,293.0) scale(0.938,1)" stroke="#000" stroke-width="0.05">1</text><text transform="translate(441.43,293.0) scale(0.990,1)" stroke="#000" stroke-width="0.05">9</text><text transform="translate(451.02,293.0) scale(1.292,1)" stroke="#000" stroke-width="0.00">-</text><text transform="translate(460.64,293.0) scale(1.013,1)" stroke="#000" stroke-width="0.05">0</text><text transform="translate(470.28,293.0) scale(0.967,1)" stroke="#000" stroke-width="0.05">8</text><text transform="translate(479.93,293.0) scale(0.967,1)" stroke="#000" stroke-width="0.05">8</text><text transform="translate(489.50,293.0) scale(0.990,1)" stroke="#000" stroke-width="0.05">3</text><text transform="translate(499.30,293.0) scale(0.905,1)" stroke="#000" stroke-width="0.05">4</text><text transform="translate(508.79,293.0) scale(1.120,1)" stroke="#000" stroke-width="0.00">(</text><text transform="translate(518.53,293.0) scale(1.013,1)" stroke="#000" stroke-width="0.05">2</text><text transform="translate(528.37,293.0) scale(1.077,1)" stroke="#000" stroke-width="0.00">)</text></g>
<g font-family="Liberation Serif" font-weight="bold" font-size="20.00" text-anchor="middle" fill="#000"><text transform="translate(442.56,339.0) scale(0.931,1)" stroke="#000" stroke-width="0.30">4</text><text transform="translate(453.99,339.0) scale(0.994,1)" stroke="#000" stroke-width="0.30">8</text><text transform="translate(465.40,339.0) scale(1.017,1)" stroke="#000" stroke-width="0.30">3</text><text transform="translate(476.60,339.0) scale(1.042,1)" stroke="#000" stroke-width="0.30">7</text><text transform="translate(488.43,339.0) scale(1.017,1)" stroke="#000" stroke-width="0.30">3</text></g>
<path d="M371.4,380.5L384.2,391.3M384.2,380.5L371.4,391.3" stroke="#000" stroke-width="1.3" fill="none"/>
<circle cx="377.8" cy="381.9" r="1.2" fill="#000"/>
<circle cx="377.8" cy="389.9" r="1.2" fill="#000"/>
<circle cx="373.8" cy="385.9" r="1.2" fill="#000"/>
<circle cx="381.8" cy="385.9" r="1.2" fill="#000"/>
<text x="386.1" y="391.8" font-family="Liberation Sans" font-size="17.57" textLength="10.4" lengthAdjust="spacingAndGlyphs" fill="#000">5</text>
<g font-family="Liberation Serif" font-weight="bold" font-size="19.85" text-anchor="middle" fill="#000"><text transform="translate(407.97,392.9) scale(0.899,1)" stroke="#000" stroke-width="0.30">4</text><text transform="translate(418.91,392.9) scale(0.960,1)" stroke="#000" stroke-width="0.30">8</text><text transform="translate(429.95,392.9) scale(1.006,1)" stroke="#000" stroke-width="0.30">2</text><text transform="translate(440.87,392.9) scale(0.982,1)" stroke="#000" stroke-width="0.30">3</text><text transform="translate(451.72,392.9) scale(0.931,1)" stroke="#000" stroke-width="0.30">1</text><text transform="translate(463.00,392.9) scale(0.714,1)" stroke="#000" stroke-width="0.60">A</text><text transform="translate(473.96,392.9) scale(1.111,1)" stroke="#000" stroke-width="0.00">(</text><text transform="translate(484.85,392.9) scale(0.704,1)" stroke="#000" stroke-width="0.61">R</text><text transform="translate(496.08,392.9) scale(0.676,1)" stroke="#000" stroke-width="0.66">H</text><text transform="translate(507.36,392.9) scale(1.069,1)" stroke="#000" stroke-width="0.00">)</text></g>
<path d="M371.4,400.5L384.2,411.3M384.2,400.5L371.4,411.3" stroke="#000" stroke-width="1.3" fill="none"/>
<circle cx="377.8" cy="401.9" r="1.2" fill="#000"/>
<circle cx="377.8" cy="409.9" r="1.2" fill="#000"/>
<circle cx="373.8" cy="405.9" r="1.2" fill="#000"/>
<circle cx="381.8" cy="405.9" r="1.2" fill="#000"/>
<text x="386.1" y="411.8" font-family="Liberation Sans" font-size="17.57" textLength="10.4" lengthAdjust="spacingAndGlyphs" fill="#000">5</text>
<g font-family="Liberation Serif" font-weight="bold" font-size="19.85" text-anchor="middle" fill="#000"><text transform="translate(407.97,412.8) scale(0.899,1)" stroke="#000" stroke-width="0.30">4</text><text transform="translate(418.91,412.8) scale(0.960,1)" stroke="#000" stroke-width="0.30">8</text><text transform="translate(429.95,412.8) scale(1.006,1)" stroke="#000" stroke-width="0.30">2</text><text transform="translate(440.87,412.8) scale(0.982,1)" stroke="#000" stroke-width="0.30">3</text><text transform="translate(451.72,412.8) scale(0.931,1)" stroke="#000" stroke-width="0.30">1</text><text transform="translate(463.09,412.8) scale(0.794,1)" stroke="#000" stroke-width="0.47">B</text><text transform="translate(473.96,412.8) scale(1.111,1)" stroke="#000" stroke-width="0.00">(</text><text transform="translate(485.31,412.8) scale(0.820,1)" stroke="#000" stroke-width="0.43">L</text><text transform="translate(496.08,412.8) scale(0.676,1)" stroke="#000" stroke-width="0.66">H</text><text transform="translate(507.36,412.8) scale(1.069,1)" stroke="#000" stroke-width="0.00">)</text></g>
<g font-family="Liberation Serif" font-weight="bold" font-size="22.15" text-anchor="middle" fill="#000"><text transform="translate(632.85,447.2) scale(0.839,1)" stroke="#000" stroke-width="0.40">4</text><text transform="translate(644.26,447.2) scale(0.896,1)" stroke="#000" stroke-width="0.31">8</text><text transform="translate(655.65,447.2) scale(0.917,1)" stroke="#000" stroke-width="0.30">3</text><text transform="translate(667.25,447.2) scale(0.939,1)" stroke="#000" stroke-width="0.30">0</text><text transform="translate(678.73,447.2) scale(0.896,1)" stroke="#000" stroke-width="0.31">6</text></g>
<g font-family="Liberation Serif" font-weight="bold" font-size="21.69" text-anchor="middle" fill="#000"><text transform="translate(138.18,399.5) scale(0.843,1)" stroke="#000" stroke-width="0.39">4</text><text transform="translate(149.40,399.5) scale(0.900,1)" stroke="#000" stroke-width="0.30">8</text><text transform="translate(160.70,399.5) scale(0.900,1)" stroke="#000" stroke-width="0.30">6</text><text transform="translate(172.11,399.5) scale(0.921,1)" stroke="#000" stroke-width="0.30">9</text><text transform="translate(183.02,399.5) scale(0.873,1)" stroke="#000" stroke-width="0.34">1</text><text transform="translate(194.59,399.5) scale(0.670,1)" stroke="#000" stroke-width="0.67">A</text></g>
<g font-family="Liberation Serif" font-weight="bold" font-size="17.23" text-anchor="middle" fill="#000"><text transform="translate(180.29,439.4) scale(1.004,1)" stroke="#000" stroke-width="0.05">9</text><text transform="translate(189.99,439.4) scale(1.028,1)" stroke="#000" stroke-width="0.05">0</text><text transform="translate(199.52,439.4) scale(0.952,1)" stroke="#000" stroke-width="0.05">1</text><text transform="translate(209.31,439.4) scale(0.952,1)" stroke="#000" stroke-width="0.05">1</text><text transform="translate(219.43,439.4) scale(1.004,1)" stroke="#000" stroke-width="0.05">9</text><text transform="translate(229.16,439.4) scale(1.310,1)" stroke="#000" stroke-width="0.00">-</text><text transform="translate(238.92,439.4) scale(1.028,1)" stroke="#000" stroke-width="0.05">0</text><text transform="translate(248.70,439.4) scale(0.981,1)" stroke="#000" stroke-width="0.05">8</text><text transform="translate(258.13,439.4) scale(1.028,1)" stroke="#000" stroke-width="0.05">7</text><text transform="translate(268.27,439.4) scale(1.028,1)" stroke="#000" stroke-width="0.05">0</text><text transform="translate(277.80,439.4) scale(0.952,1)" stroke="#000" stroke-width="0.05">1</text></g>
<g font-family="Liberation Serif" font-weight="bold" font-size="19.54" text-anchor="middle" fill="#000"><text transform="translate(345.33,556.5) scale(0.946,1)" stroke="#000" stroke-width="0.30">4</text><text transform="translate(356.67,556.5) scale(1.010,1)" stroke="#000" stroke-width="0.30">8</text><text transform="translate(367.69,556.5) scale(1.058,1)" stroke="#000" stroke-width="0.30">7</text><text transform="translate(379.24,556.5) scale(0.980,1)" stroke="#000" stroke-width="0.30">1</text><text transform="translate(390.96,556.5) scale(1.058,1)" stroke="#000" stroke-width="0.30">0</text></g>
<g font-family="Liberation Serif" font-weight="bold" font-size="17.23" text-anchor="middle" fill="#000"><text transform="translate(199.75,589.1) scale(0.994,1)" stroke="#000" stroke-width="0.05">9</text><text transform="translate(209.43,589.1) scale(0.910,1)" stroke="#000" stroke-width="0.05">4</text><text transform="translate(219.05,589.1) scale(0.972,1)" stroke="#000" stroke-width="0.05">6</text><text transform="translate(228.75,589.1) scale(1.018,1)" stroke="#000" stroke-width="0.05">2</text><text transform="translate(238.44,589.1) scale(1.018,1)" stroke="#000" stroke-width="0.05">2</text><text transform="translate(248.15,589.1) scale(1.298,1)" stroke="#000" stroke-width="0.00">-</text><text transform="translate(257.73,589.1) scale(0.994,1)" stroke="#000" stroke-width="0.05">3</text><text transform="translate(267.26,589.1) scale(0.943,1)" stroke="#000" stroke-width="0.05">1</text><text transform="translate(277.27,589.1) scale(0.910,1)" stroke="#000" stroke-width="0.05">4</text><text transform="translate(286.90,589.1) scale(1.018,1)" stroke="#000" stroke-width="0.05">0</text><text transform="translate(296.59,589.1) scale(1.018,1)" stroke="#000" stroke-width="0.05">0</text><text transform="translate(306.19,589.1) scale(1.125,1)" stroke="#000" stroke-width="0.00">(</text><text transform="translate(316.04,589.1) scale(0.910,1)" stroke="#000" stroke-width="0.05">4</text><text transform="translate(325.86,589.1) scale(1.082,1)" stroke="#000" stroke-width="0.00">)</text></g>
<g font-family="Liberation Serif" font-weight="bold" font-size="17.23" text-anchor="middle" fill="#000"><text transform="translate(54.61,628.0) scale(0.983,1)" stroke="#000" stroke-width="0.05">9</text><text transform="translate(64.11,628.0) scale(1.006,1)" stroke="#000" stroke-width="0.05">0</text><text transform="translate(73.44,628.0) scale(0.932,1)" stroke="#000" stroke-width="0.05">1</text><text transform="translate(82.93,628.0) scale(1.006,1)" stroke="#000" stroke-width="0.05">7</text><text transform="translate(92.85,628.0) scale(1.006,1)" stroke="#000" stroke-width="0.05">0</text><text transform="translate(102.46,628.0) scale(1.283,1)" stroke="#000" stroke-width="0.00">-</text><text transform="translate(111.77,628.0) scale(0.932,1)" stroke="#000" stroke-width="0.05">1</text><text transform="translate(121.67,628.0) scale(0.899,1)" stroke="#000" stroke-width="0.05">4</text><text transform="translate(131.18,628.0) scale(1.006,1)" stroke="#000" stroke-width="0.05">0</text><text transform="translate(140.76,628.0) scale(1.006,1)" stroke="#000" stroke-width="0.05">2</text><text transform="translate(150.43,628.0) scale(0.983,1)" stroke="#000" stroke-width="0.05">9</text><text transform="translate(159.84,628.0) scale(1.112,1)" stroke="#000" stroke-width="0.00">(</text><text transform="translate(169.58,628.0) scale(0.899,1)" stroke="#000" stroke-width="0.05">4</text><text transform="translate(179.28,628.0) scale(1.069,1)" stroke="#000" stroke-width="0.00">)</text></g>
<g font-family="Liberation Serif" font-weight="bold" font-size="17.23" text-anchor="middle" fill="#000"><text transform="translate(471.22,574.8) scale(0.985,1)" stroke="#000" stroke-width="0.05">9</text><text transform="translate(480.74,574.8) scale(1.009,1)" stroke="#000" stroke-width="0.05">0</text><text transform="translate(490.10,574.8) scale(0.934,1)" stroke="#000" stroke-width="0.05">1</text><text transform="translate(499.70,574.8) scale(0.934,1)" stroke="#000" stroke-width="0.05">1</text><text transform="translate(509.63,574.8) scale(0.985,1)" stroke="#000" stroke-width="0.05">9</text><text transform="translate(519.18,574.8) scale(1.286,1)" stroke="#000" stroke-width="0.00">-</text><text transform="translate(528.76,574.8) scale(1.009,1)" stroke="#000" stroke-width="0.05">0</text><text transform="translate(538.36,574.8) scale(0.963,1)" stroke="#000" stroke-width="0.05">8</text><text transform="translate(547.96,574.8) scale(0.963,1)" stroke="#000" stroke-width="0.05">8</text><text transform="translate(557.48,574.8) scale(0.985,1)" stroke="#000" stroke-width="0.05">3</text><text transform="translate(567.24,574.8) scale(0.901,1)" stroke="#000" stroke-width="0.05">4</text><text transform="translate(576.69,574.8) scale(1.115,1)" stroke="#000" stroke-width="0.00">(</text><text transform="translate(586.45,574.8) scale(0.901,1)" stroke="#000" stroke-width="0.05">4</text><text transform="translate(596.18,574.8) scale(1.072,1)" stroke="#000" stroke-width="0.00">)</text></g>
<g font-family="Liberation Serif" font-weight="bold" font-size="17.23" text-anchor="middle" fill="#000"><text transform="translate(385.76,687.8) scale(0.996,1)" stroke="#000" stroke-width="0.05">9</text><text transform="translate(395.39,687.8) scale(1.020,1)" stroke="#000" stroke-width="0.05">0</text><text transform="translate(404.86,687.8) scale(0.945,1)" stroke="#000" stroke-width="0.05">1</text><text transform="translate(414.82,687.8) scale(1.020,1)" stroke="#000" stroke-width="0.05">0</text><text transform="translate(424.53,687.8) scale(1.020,1)" stroke="#000" stroke-width="0.05">5</text><text transform="translate(434.27,687.8) scale(1.301,1)" stroke="#000" stroke-width="0.00">-</text><text transform="translate(443.71,687.8) scale(0.945,1)" stroke="#000" stroke-width="0.05">1</text><text transform="translate(453.75,687.8) scale(0.912,1)" stroke="#000" stroke-width="0.05">4</text><text transform="translate(463.14,687.8) scale(0.945,1)" stroke="#000" stroke-width="0.05">1</text><text transform="translate(473.10,687.8) scale(1.020,1)" stroke="#000" stroke-width="0.05">2</text><text transform="translate(482.73,687.8) scale(0.996,1)" stroke="#000" stroke-width="0.05">3</text><text transform="translate(492.44,687.8) scale(1.128,1)" stroke="#000" stroke-width="0.00">(</text><text transform="translate(502.31,687.8) scale(0.912,1)" stroke="#000" stroke-width="0.05">4</text><text transform="translate(512.15,687.8) scale(1.084,1)" stroke="#000" stroke-width="0.00">)</text></g>
<g font-family="Liberation Serif" font-weight="bold" font-size="17.23" text-anchor="middle" fill="#000"><text transform="translate(64.47,727.4) scale(0.998,1)" stroke="#000" stroke-width="0.05">9</text><text transform="translate(74.11,727.4) scale(1.022,1)" stroke="#000" stroke-width="0.05">0</text><text transform="translate(83.59,727.4) scale(0.946,1)" stroke="#000" stroke-width="0.05">1</text><text transform="translate(93.22,727.4) scale(1.022,1)" stroke="#000" stroke-width="0.05">7</text><text transform="translate(103.30,727.4) scale(1.022,1)" stroke="#000" stroke-width="0.05">0</text><text transform="translate(113.05,727.4) scale(1.303,1)" stroke="#000" stroke-width="0.00">-</text><text transform="translate(122.51,727.4) scale(0.946,1)" stroke="#000" stroke-width="0.05">1</text><text transform="translate(132.55,727.4) scale(0.913,1)" stroke="#000" stroke-width="0.05">4</text><text transform="translate(142.21,727.4) scale(1.022,1)" stroke="#000" stroke-width="0.05">0</text><text transform="translate(151.94,727.4) scale(1.022,1)" stroke="#000" stroke-width="0.05">2</text><text transform="translate(161.75,727.4) scale(0.998,1)" stroke="#000" stroke-width="0.05">9</text><text transform="translate(171.31,727.4) scale(1.129,1)" stroke="#000" stroke-width="0.00">(</text><text transform="translate(181.20,727.4) scale(0.913,1)" stroke="#000" stroke-width="0.05">4</text><text transform="translate(191.05,727.4) scale(1.086,1)" stroke="#000" stroke-width="0.00">)</text></g>
<g font-family="Liberation Serif" font-weight="bold" font-size="17.23" text-anchor="middle" fill="#000"><text transform="translate(93.08,837.0) scale(1.000,1)" stroke="#000" stroke-width="0.05">9</text><text transform="translate(102.81,837.0) scale(0.915,1)" stroke="#000" stroke-width="0.05">4</text><text transform="translate(112.49,837.0) scale(0.977,1)" stroke="#000" stroke-width="0.05">6</text><text transform="translate(122.25,837.0) scale(1.024,1)" stroke="#000" stroke-width="0.05">2</text><text transform="translate(132.00,837.0) scale(1.024,1)" stroke="#000" stroke-width="0.05">2</text><text transform="translate(141.77,837.0) scale(1.306,1)" stroke="#000" stroke-width="0.00">-</text><text transform="translate(151.41,837.0) scale(1.000,1)" stroke="#000" stroke-width="0.05">3</text><text transform="translate(161.00,837.0) scale(0.948,1)" stroke="#000" stroke-width="0.05">1</text><text transform="translate(171.07,837.0) scale(0.915,1)" stroke="#000" stroke-width="0.05">4</text><text transform="translate(180.75,837.0) scale(1.024,1)" stroke="#000" stroke-width="0.05">0</text><text transform="translate(190.50,837.0) scale(1.024,1)" stroke="#000" stroke-width="0.05">0</text><text transform="translate(200.16,837.0) scale(1.132,1)" stroke="#000" stroke-width="0.00">(</text><text transform="translate(210.07,837.0) scale(0.915,1)" stroke="#000" stroke-width="0.05">4</text><text transform="translate(219.94,837.0) scale(1.088,1)" stroke="#000" stroke-width="0.00">)</text></g>
<g font-family="Liberation Serif" font-weight="bold" font-size="21.54" text-anchor="middle" fill="#0d4f74"><text transform="translate(319.18,798.8) scale(0.830,1)" stroke="#0d4f74" stroke-width="0.41">4</text><text transform="translate(330.15,798.8) scale(0.887,1)" stroke="#0d4f74" stroke-width="0.32">8</text><text transform="translate(340.81,798.8) scale(0.929,1)" stroke="#0d4f74" stroke-width="0.30">7</text><text transform="translate(352.26,798.8) scale(0.929,1)" stroke="#0d4f74" stroke-width="0.30">2</text><text transform="translate(363.32,798.8) scale(0.929,1)" stroke="#0d4f74" stroke-width="0.30">0</text><text transform="translate(374.27,798.8) scale(1.026,1)" stroke="#0d4f74" stroke-width="0.00">(</text><text transform="translate(385.19,798.8) scale(0.651,1)" stroke="#0d4f74" stroke-width="0.70">R</text><text transform="translate(396.45,798.8) scale(0.624,1)" stroke="#0d4f74" stroke-width="0.74">H</text><text transform="translate(407.76,798.8) scale(0.987,1)" stroke="#0d4f74" stroke-width="0.00">)</text></g>
<g font-family="Liberation Serif" font-weight="bold" font-size="21.38" text-anchor="middle" fill="#0d4f74"><text transform="translate(319.18,816.3) scale(0.836,1)" stroke="#0d4f74" stroke-width="0.40">4</text><text transform="translate(330.15,816.3) scale(0.893,1)" stroke="#0d4f74" stroke-width="0.31">8</text><text transform="translate(340.81,816.3) scale(0.935,1)" stroke="#0d4f74" stroke-width="0.30">7</text><text transform="translate(352.16,816.3) scale(0.914,1)" stroke="#0d4f74" stroke-width="0.30">3</text><text transform="translate(363.32,816.3) scale(0.935,1)" stroke="#0d4f74" stroke-width="0.30">0</text><text transform="translate(374.27,816.3) scale(1.034,1)" stroke="#0d4f74" stroke-width="0.00">(</text><text transform="translate(385.65,816.3) scale(0.763,1)" stroke="#0d4f74" stroke-width="0.52">L</text><text transform="translate(396.45,816.3) scale(0.629,1)" stroke="#0d4f74" stroke-width="0.73">H</text><text transform="translate(407.76,816.3) scale(0.994,1)" stroke="#0d4f74" stroke-width="0.00">)</text></g>
<g font-family="Liberation Serif" font-weight="bold" font-size="17.23" text-anchor="middle" fill="#000"><text transform="translate(207.63,878.3) scale(0.987,1)" stroke="#000" stroke-width="0.05">9</text><text transform="translate(217.16,878.3) scale(1.010,1)" stroke="#000" stroke-width="0.05">0</text><text transform="translate(226.53,878.3) scale(0.935,1)" stroke="#000" stroke-width="0.05">1</text><text transform="translate(236.40,878.3) scale(1.010,1)" stroke="#000" stroke-width="0.05">0</text><text transform="translate(246.02,878.3) scale(1.010,1)" stroke="#000" stroke-width="0.05">5</text><text transform="translate(255.66,878.3) scale(1.288,1)" stroke="#000" stroke-width="0.00">-</text><text transform="translate(265.00,878.3) scale(0.935,1)" stroke="#000" stroke-width="0.05">1</text><text transform="translate(274.94,878.3) scale(0.903,1)" stroke="#000" stroke-width="0.05">4</text><text transform="translate(284.24,878.3) scale(0.935,1)" stroke="#000" stroke-width="0.05">1</text><text transform="translate(294.11,878.3) scale(1.010,1)" stroke="#000" stroke-width="0.05">2</text><text transform="translate(303.64,878.3) scale(0.987,1)" stroke="#000" stroke-width="0.05">3</text><text transform="translate(313.26,878.3) scale(1.116,1)" stroke="#000" stroke-width="0.00">(</text><text transform="translate(323.03,878.3) scale(0.903,1)" stroke="#000" stroke-width="0.05">4</text><text transform="translate(332.77,878.3) scale(1.073,1)" stroke="#000" stroke-width="0.00">)</text></g>
<path d="M838.0,58.0L852.0,71.5M852.0,58.0L838.0,71.5" stroke="#000" stroke-width="1.3" fill="none"/>
<circle cx="845.0" cy="60.4" r="1.2" fill="#000"/>
<circle cx="845.0" cy="69.1" r="1.2" fill="#000"/>
<circle cx="840.7" cy="64.8" r="1.2" fill="#000"/>
<circle cx="849.4" cy="64.8" r="1.2" fill="#000"/>
<text x="854.1" y="72.0" font-family="Liberation Sans" font-size="21.43" textLength="11.4" lengthAdjust="spacingAndGlyphs" fill="#000">1</text>
<g font-family="Liberation Serif" font-weight="bold" font-size="17.23" text-anchor="middle" fill="#000"><text transform="translate(880.59,73.5) scale(1.004,1)" stroke="#000" stroke-width="0.05">9</text><text transform="translate(890.29,73.5) scale(1.028,1)" stroke="#000" stroke-width="0.05">0</text><text transform="translate(899.83,73.5) scale(0.952,1)" stroke="#000" stroke-width="0.05">1</text><text transform="translate(909.51,73.5) scale(1.028,1)" stroke="#000" stroke-width="0.05">7</text><text transform="translate(919.30,73.5) scale(1.028,1)" stroke="#000" stroke-width="0.05">7</text><text transform="translate(929.46,73.5) scale(1.311,1)" stroke="#000" stroke-width="0.00">-</text><text transform="translate(938.97,73.5) scale(0.952,1)" stroke="#000" stroke-width="0.05">1</text><text transform="translate(949.08,73.5) scale(0.918,1)" stroke="#000" stroke-width="0.05">4</text><text transform="translate(958.80,73.5) scale(1.028,1)" stroke="#000" stroke-width="0.05">0</text><text transform="translate(968.58,73.5) scale(1.028,1)" stroke="#000" stroke-width="0.05">0</text><text transform="translate(978.37,73.5) scale(1.028,1)" stroke="#000" stroke-width="0.05">2</text></g>
<path d="M838.0,78.0L852.0,90.5M852.0,78.0L838.0,90.5" stroke="#000" stroke-width="1.3" fill="none"/>
<circle cx="845.0" cy="79.9" r="1.2" fill="#000"/>
<circle cx="845.0" cy="88.6" r="1.2" fill="#000"/>
<circle cx="840.7" cy="84.2" r="1.2" fill="#000"/>
<circle cx="849.4" cy="84.2" r="1.2" fill="#000"/>
<text x="854.1" y="91.0" font-family="Liberation Sans" font-size="20.00" textLength="11.4" lengthAdjust="spacingAndGlyphs" fill="#000">2</text>
<g font-family="Liberation Serif" font-weight="bold" font-size="17.23" text-anchor="middle" fill="#000"><text transform="translate(880.59,90.5) scale(1.004,1)" stroke="#000" stroke-width="0.05">9</text><text transform="translate(890.29,90.5) scale(1.028,1)" stroke="#000" stroke-width="0.05">0</text><text transform="translate(899.83,90.5) scale(0.952,1)" stroke="#000" stroke-width="0.05">1</text><text transform="translate(909.51,90.5) scale(1.028,1)" stroke="#000" stroke-width="0.05">7</text><text transform="translate(919.30,90.5) scale(1.028,1)" stroke="#000" stroke-width="0.05">7</text><text transform="translate(929.46,90.5) scale(1.311,1)" stroke="#000" stroke-width="0.00">-</text><text transform="translate(938.97,90.5) scale(0.952,1)" stroke="#000" stroke-width="0.05">1</text><text transform="translate(949.08,90.5) scale(0.918,1)" stroke="#000" stroke-width="0.05">4</text><text transform="translate(958.80,90.5) scale(1.028,1)" stroke="#000" stroke-width="0.05">0</text><text transform="translate(968.58,90.5) scale(1.028,1)" stroke="#000" stroke-width="0.05">0</text><text transform="translate(978.28,90.5) scale(1.004,1)" stroke="#000" stroke-width="0.05">3</text></g>
<g font-family="Liberation Serif" font-weight="bold" font-size="18.92" text-anchor="middle" fill="#000"><text transform="translate(704.49,111.0) scale(0.968,1)" stroke="#000" stroke-width="0.30">4</text><text transform="translate(715.72,111.0) scale(1.034,1)" stroke="#000" stroke-width="0.30">8</text><text transform="translate(727.05,111.0) scale(1.083,1)" stroke="#000" stroke-width="0.30">5</text><text transform="translate(738.28,111.0) scale(1.058,1)" stroke="#000" stroke-width="0.30">3</text><text transform="translate(749.70,111.0) scale(1.083,1)" stroke="#000" stroke-width="0.30">0</text><text transform="translate(760.92,111.0) scale(1.002,1)" stroke="#000" stroke-width="0.30">J</text></g>
<text x="711.6" y="128.6" font-family="Liberation Sans" font-size="17.29" textLength="51.7" lengthAdjust="spacingAndGlyphs" fill="#000">(NO. 1)</text>
<g font-family="Liberation Serif" font-weight="bold" font-size="20.46" text-anchor="middle" fill="#000"><text transform="translate(891.52,143.0) scale(0.901,1)" stroke="#000" stroke-width="0.30">4</text><text transform="translate(902.84,143.0) scale(0.963,1)" stroke="#000" stroke-width="0.30">8</text><text transform="translate(914.25,143.0) scale(1.009,1)" stroke="#000" stroke-width="0.30">5</text><text transform="translate(925.55,143.0) scale(0.985,1)" stroke="#000" stroke-width="0.30">3</text><text transform="translate(937.06,143.0) scale(1.009,1)" stroke="#000" stroke-width="0.30">0</text><text transform="translate(948.29,143.0) scale(0.717,1)" stroke="#000" stroke-width="0.59">G</text></g>
<g font-family="Liberation Serif" font-weight="bold" font-size="20.77" text-anchor="middle" fill="#000"><text transform="translate(705.49,162.0) scale(0.882,1)" stroke="#000" stroke-width="0.33">4</text><text transform="translate(716.72,162.0) scale(0.942,1)" stroke="#000" stroke-width="0.30">8</text><text transform="translate(728.05,162.0) scale(0.987,1)" stroke="#000" stroke-width="0.30">5</text><text transform="translate(739.28,162.0) scale(0.964,1)" stroke="#000" stroke-width="0.30">3</text><text transform="translate(750.70,162.0) scale(0.987,1)" stroke="#000" stroke-width="0.30">0</text><text transform="translate(761.92,162.0) scale(0.913,1)" stroke="#000" stroke-width="0.30">J</text></g>
<text x="710.5" y="179.5" font-family="Liberation Sans" font-size="19.29" textLength="52.8" lengthAdjust="spacingAndGlyphs" fill="#000">(NO. 2)</text>
<g font-family="Liberation Serif" font-weight="bold" font-size="20.77" text-anchor="middle" fill="#000"><text transform="translate(706.45,199.5) scale(0.875,1)" stroke="#000" stroke-width="0.34">4</text><text transform="translate(717.60,199.5) scale(0.934,1)" stroke="#000" stroke-width="0.30">8</text><text transform="translate(728.84,199.5) scale(0.979,1)" stroke="#000" stroke-width="0.30">5</text><text transform="translate(739.97,199.5) scale(0.956,1)" stroke="#000" stroke-width="0.30">3</text><text transform="translate(751.31,199.5) scale(0.979,1)" stroke="#000" stroke-width="0.30">0</text><text transform="translate(762.62,199.5) scale(0.854,1)" stroke="#000" stroke-width="0.37">P</text></g>
<g font-family="Liberation Serif" font-weight="bold" font-size="20.15" text-anchor="middle" fill="#000"><text transform="translate(894.48,223.6) scale(0.908,1)" stroke="#000" stroke-width="0.30">4</text><text transform="translate(905.72,223.6) scale(0.970,1)" stroke="#000" stroke-width="0.30">8</text><text transform="translate(917.05,223.6) scale(1.016,1)" stroke="#000" stroke-width="0.30">5</text><text transform="translate(928.26,223.6) scale(0.993,1)" stroke="#000" stroke-width="0.30">3</text><text transform="translate(939.69,223.6) scale(1.016,1)" stroke="#000" stroke-width="0.30">0</text><text transform="translate(950.83,223.6) scale(0.722,1)" stroke="#000" stroke-width="0.58">G</text></g>
<g font-family="Liberation Serif" font-weight="bold" font-size="20.77" text-anchor="middle" fill="#000"><text transform="translate(710.49,244.5) scale(0.882,1)" stroke="#000" stroke-width="0.33">4</text><text transform="translate(721.72,244.5) scale(0.942,1)" stroke="#000" stroke-width="0.30">8</text><text transform="translate(733.05,244.5) scale(0.987,1)" stroke="#000" stroke-width="0.30">5</text><text transform="translate(744.28,244.5) scale(0.964,1)" stroke="#000" stroke-width="0.30">3</text><text transform="translate(755.70,244.5) scale(0.987,1)" stroke="#000" stroke-width="0.30">0</text><text transform="translate(766.92,244.5) scale(0.913,1)" stroke="#000" stroke-width="0.30">J</text></g>
<text x="716.2" y="262.0" font-family="Liberation Sans" font-size="17.14" textLength="52.6" lengthAdjust="spacingAndGlyphs" fill="#000">(NO. 1)</text>
<g font-family="Liberation Serif" font-weight="bold" font-size="20.00" text-anchor="middle" fill="#000"><text transform="translate(1004.00,284.6) scale(0.898,1)" stroke="#000" stroke-width="0.30">4</text><text transform="translate(1015.03,284.6) scale(0.960,1)" stroke="#000" stroke-width="0.30">8</text><text transform="translate(1026.15,284.6) scale(1.005,1)" stroke="#000" stroke-width="0.30">5</text><text transform="translate(1037.16,284.6) scale(0.982,1)" stroke="#000" stroke-width="0.30">3</text><text transform="translate(1048.37,284.6) scale(1.005,1)" stroke="#000" stroke-width="0.30">0</text><text transform="translate(1059.38,284.6) scale(1.111,1)" stroke="#000" stroke-width="0.00">(</text><text transform="translate(1070.36,284.6) scale(0.704,1)" stroke="#000" stroke-width="0.61">R</text><text transform="translate(1081.68,284.6) scale(0.676,1)" stroke="#000" stroke-width="0.66">H</text><text transform="translate(1093.04,284.6) scale(1.068,1)" stroke="#000" stroke-width="0.00">)</text></g>
<g font-family="Liberation Serif" font-weight="bold" font-size="22.15" text-anchor="middle" fill="#000"><text transform="translate(1004.00,304.4) scale(0.811,1)" stroke="#000" stroke-width="0.44">4</text><text transform="translate(1015.03,304.4) scale(0.866,1)" stroke="#000" stroke-width="0.35">8</text><text transform="translate(1026.15,304.4) scale(0.908,1)" stroke="#000" stroke-width="0.30">5</text><text transform="translate(1037.34,304.4) scale(0.811,1)" stroke="#000" stroke-width="0.44">4</text><text transform="translate(1048.37,304.4) scale(0.908,1)" stroke="#000" stroke-width="0.30">0</text><text transform="translate(1059.38,304.4) scale(1.003,1)" stroke="#000" stroke-width="0.00">(</text><text transform="translate(1070.83,304.4) scale(0.740,1)" stroke="#000" stroke-width="0.56">L</text><text transform="translate(1081.68,304.4) scale(0.610,1)" stroke="#000" stroke-width="0.76">H</text><text transform="translate(1093.04,304.4) scale(0.965,1)" stroke="#000" stroke-width="0.00">)</text></g>
<g font-family="Liberation Serif" font-weight="bold" font-size="21.23" text-anchor="middle" fill="#000"><text transform="translate(912.18,501.3) scale(0.861,1)" stroke="#000" stroke-width="0.36">4</text><text transform="translate(923.40,501.3) scale(0.920,1)" stroke="#000" stroke-width="0.30">8</text><text transform="translate(934.70,501.3) scale(0.963,1)" stroke="#000" stroke-width="0.30">5</text><text transform="translate(945.91,501.3) scale(0.941,1)" stroke="#000" stroke-width="0.30">3</text><text transform="translate(957.31,501.3) scale(0.963,1)" stroke="#000" stroke-width="0.30">0</text><text transform="translate(968.59,501.3) scale(0.685,1)" stroke="#000" stroke-width="0.64">A</text></g>
<path d="M1123.0,115.6L1137.8,128.8M1137.8,115.6L1123.0,128.8" stroke="#000" stroke-width="1.3" fill="none"/>
<circle cx="1130.4" cy="117.6" r="1.2" fill="#000"/>
<circle cx="1130.4" cy="126.8" r="1.2" fill="#000"/>
<circle cx="1125.8" cy="122.2" r="1.2" fill="#000"/>
<circle cx="1135.0" cy="122.2" r="1.2" fill="#000"/>
<text x="1139.9" y="129.3" font-family="Liberation Sans" font-size="21.00" textLength="12.0" lengthAdjust="spacingAndGlyphs" fill="#000">1</text>
<path d="M1123.0,138.9L1137.8,153.4M1137.8,138.9L1123.0,153.4" stroke="#000" stroke-width="1.3" fill="none"/>
<circle cx="1130.4" cy="141.6" r="1.2" fill="#000"/>
<circle cx="1130.4" cy="150.7" r="1.2" fill="#000"/>
<circle cx="1125.8" cy="146.2" r="1.2" fill="#000"/>
<circle cx="1135.0" cy="146.2" r="1.2" fill="#000"/>
<text x="1139.9" y="153.9" font-family="Liberation Sans" font-size="22.86" textLength="12.0" lengthAdjust="spacingAndGlyphs" fill="#000">2</text>
<path d="M1123.0,162.3L1137.8,176.7M1137.8,162.3L1123.0,176.7" stroke="#000" stroke-width="1.3" fill="none"/>
<circle cx="1130.4" cy="164.9" r="1.2" fill="#000"/>
<circle cx="1130.4" cy="174.1" r="1.2" fill="#000"/>
<circle cx="1125.8" cy="169.5" r="1.2" fill="#000"/>
<circle cx="1135.0" cy="169.5" r="1.2" fill="#000"/>
<text x="1139.9" y="177.2" font-family="Liberation Sans" font-size="22.71" textLength="12.0" lengthAdjust="spacingAndGlyphs" fill="#000">3</text>
<path d="M1123.0,185.6L1137.8,199.5M1137.8,185.6L1123.0,199.5" stroke="#000" stroke-width="1.3" fill="none"/>
<circle cx="1130.4" cy="188.0" r="1.2" fill="#000"/>
<circle cx="1130.4" cy="197.1" r="1.2" fill="#000"/>
<circle cx="1125.8" cy="192.6" r="1.2" fill="#000"/>
<circle cx="1135.0" cy="192.6" r="1.2" fill="#000"/>
<text x="1139.9" y="200.0" font-family="Liberation Sans" font-size="22.00" textLength="12.0" lengthAdjust="spacingAndGlyphs" fill="#000">4</text>
<text x="1168.2" y="129.3" font-family="Liberation Sans" font-size="19.00" textLength="6.0" lengthAdjust="spacingAndGlyphs" fill="#000">(</text>
<text x="1215.9" y="129.3" font-family="Liberation Sans" font-size="19.00" textLength="58.8" lengthAdjust="spacingAndGlyphs" fill="#000">-9903)</text>
<text x="1168.0" y="153.0" font-family="Liberation Sans" font-size="19.29" textLength="64.5" lengthAdjust="spacingAndGlyphs" fill="#000">(9903-</text>
<text x="1268.1" y="153.0" font-family="Liberation Sans" font-size="19.29" textLength="6.4" lengthAdjust="spacingAndGlyphs" fill="#000">)</text>
<text x="1168.0" y="176.5" font-family="Liberation Sans" font-size="19.29" textLength="106.7" lengthAdjust="spacingAndGlyphs" fill="#000">(9801-0208)</text>
<text x="1168.0" y="200.0" font-family="Liberation Sans" font-size="20.00" textLength="64.5" lengthAdjust="spacingAndGlyphs" fill="#000">(0208-</text>
<text x="1268.1" y="200.0" font-family="Liberation Sans" font-size="20.00" textLength="6.4" lengthAdjust="spacingAndGlyphs" fill="#000">)</text>
<g font-family="Liberation Serif" font-weight="bold" font-size="17.23" text-anchor="middle" fill="#000"><text transform="translate(696.64,575.5) scale(0.991,1)" stroke="#000" stroke-width="0.05">9</text><text transform="translate(706.22,575.5) scale(1.015,1)" stroke="#000" stroke-width="0.05">0</text><text transform="translate(715.97,575.5) scale(0.991,1)" stroke="#000" stroke-width="0.05">9</text><text transform="translate(725.55,575.5) scale(1.015,1)" stroke="#000" stroke-width="0.05">0</text><text transform="translate(734.96,575.5) scale(0.940,1)" stroke="#000" stroke-width="0.05">1</text><text transform="translate(744.90,575.5) scale(1.294,1)" stroke="#000" stroke-width="0.00">-</text><text transform="translate(754.28,575.5) scale(0.940,1)" stroke="#000" stroke-width="0.05">1</text><text transform="translate(764.28,575.5) scale(0.991,1)" stroke="#000" stroke-width="0.05">9</text><text transform="translate(773.86,575.5) scale(1.015,1)" stroke="#000" stroke-width="0.05">0</text><text transform="translate(783.52,575.5) scale(1.015,1)" stroke="#000" stroke-width="0.05">5</text><text transform="translate(793.18,575.5) scale(1.015,1)" stroke="#000" stroke-width="0.05">2</text><text transform="translate(802.76,575.5) scale(1.122,1)" stroke="#000" stroke-width="0.00">(</text><text transform="translate(812.51,575.5) scale(1.015,1)" stroke="#000" stroke-width="0.05">2</text><text transform="translate(822.36,575.5) scale(1.078,1)" stroke="#000" stroke-width="0.00">)</text></g>
<g font-family="Liberation Serif" font-weight="bold" font-size="17.23" text-anchor="middle" fill="#000"><text transform="translate(714.35,605.5) scale(0.992,1)" stroke="#000" stroke-width="0.05">9</text><text transform="translate(723.93,605.5) scale(1.015,1)" stroke="#000" stroke-width="0.05">0</text><text transform="translate(733.35,605.5) scale(0.940,1)" stroke="#000" stroke-width="0.05">1</text><text transform="translate(742.92,605.5) scale(1.015,1)" stroke="#000" stroke-width="0.05">7</text><text transform="translate(753.02,605.5) scale(0.992,1)" stroke="#000" stroke-width="0.05">9</text><text transform="translate(762.64,605.5) scale(1.295,1)" stroke="#000" stroke-width="0.00">-</text><text transform="translate(772.28,605.5) scale(1.015,1)" stroke="#000" stroke-width="0.05">0</text><text transform="translate(781.95,605.5) scale(0.969,1)" stroke="#000" stroke-width="0.05">8</text><text transform="translate(791.62,605.5) scale(1.015,1)" stroke="#000" stroke-width="0.05">0</text><text transform="translate(801.29,605.5) scale(0.969,1)" stroke="#000" stroke-width="0.05">6</text><text transform="translate(810.96,605.5) scale(1.015,1)" stroke="#000" stroke-width="0.05">2</text><text transform="translate(820.54,605.5) scale(1.122,1)" stroke="#000" stroke-width="0.00">(</text><text transform="translate(830.30,605.5) scale(1.015,1)" stroke="#000" stroke-width="0.05">2</text><text transform="translate(840.16,605.5) scale(1.079,1)" stroke="#000" stroke-width="0.00">)</text></g>
<g font-family="Liberation Serif" font-weight="bold" font-size="20.15" text-anchor="middle" fill="#000"><text transform="translate(775.78,637.8) scale(0.908,1)" stroke="#000" stroke-width="0.30">4</text><text transform="translate(787.01,637.8) scale(0.970,1)" stroke="#000" stroke-width="0.30">8</text><text transform="translate(798.33,637.8) scale(0.970,1)" stroke="#000" stroke-width="0.30">8</text><text transform="translate(809.35,637.8) scale(0.941,1)" stroke="#000" stroke-width="0.30">1</text><text transform="translate(820.55,637.8) scale(1.016,1)" stroke="#000" stroke-width="0.30">7</text><text transform="translate(832.08,637.8) scale(0.976,1)" stroke="#000" stroke-width="0.30">S</text></g>
<g font-family="Liberation Serif" font-weight="bold" font-size="21.54" text-anchor="middle" fill="#000"><text transform="translate(775.74,667.7) scale(0.842,1)" stroke="#000" stroke-width="0.39">4</text><text transform="translate(786.88,667.7) scale(0.900,1)" stroke="#000" stroke-width="0.30">8</text><text transform="translate(798.10,667.7) scale(0.900,1)" stroke="#000" stroke-width="0.30">8</text><text transform="translate(809.03,667.7) scale(0.873,1)" stroke="#000" stroke-width="0.34">1</text><text transform="translate(820.13,667.7) scale(0.942,1)" stroke="#000" stroke-width="0.30">7</text><text transform="translate(831.51,667.7) scale(0.660,1)" stroke="#000" stroke-width="0.68">R</text></g>
<g font-family="Liberation Serif" font-weight="bold" font-size="20.15" text-anchor="middle" fill="#000"><text transform="translate(726.40,693.0) scale(0.891,1)" stroke="#000" stroke-width="0.31">4</text><text transform="translate(737.43,693.0) scale(0.952,1)" stroke="#000" stroke-width="0.30">8</text><text transform="translate(748.54,693.0) scale(0.952,1)" stroke="#000" stroke-width="0.30">8</text><text transform="translate(759.66,693.0) scale(0.998,1)" stroke="#000" stroke-width="0.30">2</text><text transform="translate(770.77,693.0) scale(0.998,1)" stroke="#000" stroke-width="0.30">5</text><text transform="translate(781.85,693.0) scale(0.709,1)" stroke="#000" stroke-width="0.61">A</text><text transform="translate(792.89,693.0) scale(1.103,1)" stroke="#000" stroke-width="0.00">(</text><text transform="translate(803.86,693.0) scale(0.699,1)" stroke="#000" stroke-width="0.62">R</text><text transform="translate(815.18,693.0) scale(0.671,1)" stroke="#000" stroke-width="0.67">H</text><text transform="translate(826.54,693.0) scale(1.060,1)" stroke="#000" stroke-width="0.00">)</text></g>
<g font-family="Liberation Serif" font-weight="bold" font-size="21.69" text-anchor="middle" fill="#000"><text transform="translate(726.40,712.6) scale(0.828,1)" stroke="#000" stroke-width="0.41">4</text><text transform="translate(737.43,712.6) scale(0.885,1)" stroke="#000" stroke-width="0.32">8</text><text transform="translate(748.54,712.6) scale(0.885,1)" stroke="#000" stroke-width="0.32">8</text><text transform="translate(759.66,712.6) scale(0.927,1)" stroke="#000" stroke-width="0.30">2</text><text transform="translate(770.76,712.6) scale(0.885,1)" stroke="#000" stroke-width="0.32">6</text><text transform="translate(781.94,712.6) scale(0.732,1)" stroke="#000" stroke-width="0.57">B</text><text transform="translate(792.89,712.6) scale(1.024,1)" stroke="#000" stroke-width="0.00">(</text><text transform="translate(804.33,712.6) scale(0.756,1)" stroke="#000" stroke-width="0.53">L</text><text transform="translate(815.18,712.6) scale(0.623,1)" stroke="#000" stroke-width="0.74">H</text><text transform="translate(826.54,712.6) scale(0.985,1)" stroke="#000" stroke-width="0.00">)</text></g>
<g font-family="Liberation Serif" font-weight="bold" font-size="17.23" text-anchor="middle" fill="#000"><text transform="translate(884.69,553.4) scale(1.003,1)" stroke="#000" stroke-width="0.05">9</text><text transform="translate(894.38,553.4) scale(1.027,1)" stroke="#000" stroke-width="0.05">0</text><text transform="translate(903.91,553.4) scale(0.951,1)" stroke="#000" stroke-width="0.05">1</text><text transform="translate(913.93,553.4) scale(1.027,1)" stroke="#000" stroke-width="0.05">0</text><text transform="translate(923.71,553.4) scale(1.027,1)" stroke="#000" stroke-width="0.05">5</text><text transform="translate(933.51,553.4) scale(1.309,1)" stroke="#000" stroke-width="0.00">-</text><text transform="translate(943.01,553.4) scale(0.951,1)" stroke="#000" stroke-width="0.05">1</text><text transform="translate(953.11,553.4) scale(0.918,1)" stroke="#000" stroke-width="0.05">4</text><text transform="translate(962.57,553.4) scale(0.951,1)" stroke="#000" stroke-width="0.05">1</text><text transform="translate(972.60,553.4) scale(1.027,1)" stroke="#000" stroke-width="0.05">2</text><text transform="translate(982.44,553.4) scale(0.918,1)" stroke="#000" stroke-width="0.05">4</text></g>
<g font-family="Liberation Serif" font-weight="bold" font-size="17.23" text-anchor="middle" fill="#000"><text transform="translate(938.85,706.4) scale(0.993,1)" stroke="#000" stroke-width="0.05">9</text><text transform="translate(948.45,706.4) scale(1.017,1)" stroke="#000" stroke-width="0.05">0</text><text transform="translate(957.89,706.4) scale(0.942,1)" stroke="#000" stroke-width="0.05">1</text><text transform="translate(967.57,706.4) scale(0.942,1)" stroke="#000" stroke-width="0.05">1</text><text transform="translate(977.59,706.4) scale(0.993,1)" stroke="#000" stroke-width="0.05">9</text><text transform="translate(987.21,706.4) scale(1.297,1)" stroke="#000" stroke-width="0.00">-</text><text transform="translate(996.87,706.4) scale(1.017,1)" stroke="#000" stroke-width="0.05">0</text><text transform="translate(1006.56,706.4) scale(0.971,1)" stroke="#000" stroke-width="0.05">8</text><text transform="translate(1016.24,706.4) scale(0.971,1)" stroke="#000" stroke-width="0.05">6</text><text transform="translate(1025.92,706.4) scale(0.971,1)" stroke="#000" stroke-width="0.05">6</text><text transform="translate(1035.26,706.4) scale(1.017,1)" stroke="#000" stroke-width="0.05">7</text><text transform="translate(1045.21,706.4) scale(1.124,1)" stroke="#000" stroke-width="0.00">(</text><text transform="translate(1055.05,706.4) scale(0.909,1)" stroke="#000" stroke-width="0.05">4</text><text transform="translate(1064.86,706.4) scale(1.081,1)" stroke="#000" stroke-width="0.00">)</text></g>
<g font-family="Liberation Serif" font-weight="bold" font-size="20.77" text-anchor="middle" fill="#000"><text transform="translate(769.42,766.0) scale(0.868,1)" stroke="#000" stroke-width="0.35">4</text><text transform="translate(780.48,766.0) scale(0.927,1)" stroke="#000" stroke-width="0.30">8</text><text transform="translate(791.63,766.0) scale(0.927,1)" stroke="#000" stroke-width="0.30">8</text><text transform="translate(802.50,766.0) scale(0.900,1)" stroke="#000" stroke-width="0.30">1</text><text transform="translate(813.53,766.0) scale(0.971,1)" stroke="#000" stroke-width="0.30">7</text><text transform="translate(825.05,766.0) scale(0.690,1)" stroke="#000" stroke-width="0.64">V</text></g>
<g font-family="Liberation Serif" font-weight="bold" font-size="20.77" text-anchor="middle" fill="#000"><text transform="translate(772.42,796.0) scale(0.868,1)" stroke="#000" stroke-width="0.35">4</text><text transform="translate(783.48,796.0) scale(0.927,1)" stroke="#000" stroke-width="0.30">8</text><text transform="translate(794.63,796.0) scale(0.927,1)" stroke="#000" stroke-width="0.30">8</text><text transform="translate(805.50,796.0) scale(0.900,1)" stroke="#000" stroke-width="0.30">1</text><text transform="translate(816.53,796.0) scale(0.971,1)" stroke="#000" stroke-width="0.30">7</text><text transform="translate(827.84,796.0) scale(0.680,1)" stroke="#000" stroke-width="0.65">R</text></g>
<g font-family="Liberation Serif" font-weight="bold" font-size="20.46" text-anchor="middle" fill="#000"><text transform="translate(769.11,822.0) scale(0.879,1)" stroke="#000" stroke-width="0.33">4</text><text transform="translate(780.15,822.0) scale(0.939,1)" stroke="#000" stroke-width="0.30">8</text><text transform="translate(791.27,822.0) scale(0.939,1)" stroke="#000" stroke-width="0.30">8</text><text transform="translate(802.11,822.0) scale(0.911,1)" stroke="#000" stroke-width="0.30">1</text><text transform="translate(813.12,822.0) scale(0.984,1)" stroke="#000" stroke-width="0.30">7</text><text transform="translate(824.45,822.0) scale(0.946,1)" stroke="#000" stroke-width="0.30">S</text></g>
<g font-family="Liberation Serif" font-weight="bold" font-size="19.08" text-anchor="middle" fill="#000"><text transform="translate(788.89,874.0) scale(0.962,1)" stroke="#000" stroke-width="0.30">4</text><text transform="translate(800.15,874.0) scale(1.027,1)" stroke="#000" stroke-width="0.30">8</text><text transform="translate(811.50,874.0) scale(1.027,1)" stroke="#000" stroke-width="0.30">8</text><text transform="translate(822.85,874.0) scale(1.076,1)" stroke="#000" stroke-width="0.30">0</text><text transform="translate(834.19,874.0) scale(1.076,1)" stroke="#000" stroke-width="0.30">2</text></g>
<path d="M625.6,895.0L640.2,907.8M640.2,895.0L625.6,907.8" stroke="#000" stroke-width="1.3" fill="none"/>
<circle cx="632.9" cy="896.9" r="1.2" fill="#000"/>
<circle cx="632.9" cy="905.9" r="1.2" fill="#000"/>
<circle cx="628.4" cy="901.4" r="1.2" fill="#000"/>
<circle cx="637.4" cy="901.4" r="1.2" fill="#000"/>
<text x="642.3" y="908.3" font-family="Liberation Sans" font-size="20.43" textLength="11.8" lengthAdjust="spacingAndGlyphs" fill="#000">3</text>
<g font-family="Liberation Serif" font-weight="bold" font-size="17.23" text-anchor="middle" fill="#000"><text transform="translate(668.26,908.3) scale(0.996,1)" stroke="#000" stroke-width="0.05">9</text><text transform="translate(677.96,908.3) scale(0.912,1)" stroke="#000" stroke-width="0.05">4</text><text transform="translate(687.36,908.3) scale(0.945,1)" stroke="#000" stroke-width="0.05">1</text><text transform="translate(697.32,908.3) scale(0.974,1)" stroke="#000" stroke-width="0.05">8</text><text transform="translate(707.03,908.3) scale(1.020,1)" stroke="#000" stroke-width="0.05">0</text><text transform="translate(716.77,908.3) scale(1.301,1)" stroke="#000" stroke-width="0.00">-</text><text transform="translate(726.53,908.3) scale(0.912,1)" stroke="#000" stroke-width="0.05">4</text><text transform="translate(735.93,908.3) scale(0.945,1)" stroke="#000" stroke-width="0.05">1</text><text transform="translate(745.89,908.3) scale(1.020,1)" stroke="#000" stroke-width="0.05">0</text><text transform="translate(755.60,908.3) scale(1.020,1)" stroke="#000" stroke-width="0.05">0</text><text transform="translate(765.32,908.3) scale(1.020,1)" stroke="#000" stroke-width="0.05">0</text><text transform="translate(774.94,908.3) scale(1.128,1)" stroke="#000" stroke-width="0.00">(</text><text transform="translate(784.75,908.3) scale(1.020,1)" stroke="#000" stroke-width="0.05">2</text><text transform="translate(794.65,908.3) scale(1.084,1)" stroke="#000" stroke-width="0.00">)</text></g>
<path d="M625.6,913.5L640.2,926.5M640.2,913.5L625.6,926.5" stroke="#000" stroke-width="1.3" fill="none"/>
<circle cx="632.9" cy="915.5" r="1.2" fill="#000"/>
<circle cx="632.9" cy="924.5" r="1.2" fill="#000"/>
<circle cx="628.4" cy="920.0" r="1.2" fill="#000"/>
<circle cx="637.4" cy="920.0" r="1.2" fill="#000"/>
<text x="642.3" y="927.0" font-family="Liberation Sans" font-size="20.71" textLength="11.8" lengthAdjust="spacingAndGlyphs" fill="#000">4</text>
<g font-family="Liberation Serif" font-weight="bold" font-size="17.23" text-anchor="middle" fill="#000"><text transform="translate(668.26,927.0) scale(0.996,1)" stroke="#000" stroke-width="0.05">9</text><text transform="translate(677.96,927.0) scale(0.912,1)" stroke="#000" stroke-width="0.05">4</text><text transform="translate(687.36,927.0) scale(0.945,1)" stroke="#000" stroke-width="0.05">1</text><text transform="translate(697.32,927.0) scale(0.974,1)" stroke="#000" stroke-width="0.05">8</text><text transform="translate(707.03,927.0) scale(1.020,1)" stroke="#000" stroke-width="0.05">5</text><text transform="translate(716.77,927.0) scale(1.301,1)" stroke="#000" stroke-width="0.00">-</text><text transform="translate(726.46,927.0) scale(0.974,1)" stroke="#000" stroke-width="0.05">6</text><text transform="translate(735.93,927.0) scale(0.945,1)" stroke="#000" stroke-width="0.05">1</text><text transform="translate(745.89,927.0) scale(1.020,1)" stroke="#000" stroke-width="0.05">0</text><text transform="translate(755.60,927.0) scale(1.020,1)" stroke="#000" stroke-width="0.05">0</text><text transform="translate(765.32,927.0) scale(1.020,1)" stroke="#000" stroke-width="0.05">0</text><text transform="translate(774.94,927.0) scale(1.128,1)" stroke="#000" stroke-width="0.00">(</text><text transform="translate(784.75,927.0) scale(1.020,1)" stroke="#000" stroke-width="0.05">2</text><text transform="translate(794.65,927.0) scale(1.084,1)" stroke="#000" stroke-width="0.00">)</text></g>
<g font-family="Liberation Serif" font-weight="bold" font-size="17.23" text-anchor="middle" fill="#000"><text transform="translate(1160.31,561.5) scale(1.010,1)" stroke="#000" stroke-width="0.05">9</text><text transform="translate(1170.07,561.5) scale(1.034,1)" stroke="#000" stroke-width="0.05">0</text><text transform="translate(1179.66,561.5) scale(0.957,1)" stroke="#000" stroke-width="0.05">1</text><text transform="translate(1189.40,561.5) scale(1.034,1)" stroke="#000" stroke-width="0.05">7</text><text transform="translate(1199.60,561.5) scale(1.034,1)" stroke="#000" stroke-width="0.05">0</text><text transform="translate(1209.46,561.5) scale(1.318,1)" stroke="#000" stroke-width="0.00">-</text><text transform="translate(1219.03,561.5) scale(0.957,1)" stroke="#000" stroke-width="0.05">1</text><text transform="translate(1229.19,561.5) scale(0.924,1)" stroke="#000" stroke-width="0.05">4</text><text transform="translate(1238.97,561.5) scale(1.034,1)" stroke="#000" stroke-width="0.05">0</text><text transform="translate(1248.81,561.5) scale(1.034,1)" stroke="#000" stroke-width="0.05">2</text><text transform="translate(1258.73,561.5) scale(1.010,1)" stroke="#000" stroke-width="0.05">9</text></g>
<g font-family="Liberation Serif" font-weight="bold" font-size="17.23" text-anchor="middle" fill="#000"><text transform="translate(1097.19,595.5) scale(1.003,1)" stroke="#000" stroke-width="0.05">9</text><text transform="translate(1106.95,595.5) scale(0.918,1)" stroke="#000" stroke-width="0.05">4</text><text transform="translate(1116.65,595.5) scale(0.980,1)" stroke="#000" stroke-width="0.05">6</text><text transform="translate(1126.43,595.5) scale(1.027,1)" stroke="#000" stroke-width="0.05">2</text><text transform="translate(1136.21,595.5) scale(1.027,1)" stroke="#000" stroke-width="0.05">2</text><text transform="translate(1146.01,595.5) scale(1.309,1)" stroke="#000" stroke-width="0.00">-</text><text transform="translate(1155.68,595.5) scale(1.003,1)" stroke="#000" stroke-width="0.05">3</text><text transform="translate(1165.29,595.5) scale(0.951,1)" stroke="#000" stroke-width="0.05">1</text><text transform="translate(1175.39,595.5) scale(0.918,1)" stroke="#000" stroke-width="0.05">4</text><text transform="translate(1185.10,595.5) scale(1.027,1)" stroke="#000" stroke-width="0.05">0</text><text transform="translate(1194.87,595.5) scale(1.027,1)" stroke="#000" stroke-width="0.05">0</text></g>
<g font-family="Liberation Serif" font-weight="bold" font-size="22.77" text-anchor="middle" fill="#000"><text transform="translate(1069.64,723.0) scale(0.795,1)" stroke="#000" stroke-width="0.47">4</text><text transform="translate(1080.75,723.0) scale(0.849,1)" stroke="#000" stroke-width="0.38">8</text><text transform="translate(1091.55,723.0) scale(0.890,1)" stroke="#000" stroke-width="0.32">7</text><text transform="translate(1103.23,723.0) scale(0.795,1)" stroke="#000" stroke-width="0.47">4</text><text transform="translate(1114.35,723.0) scale(0.890,1)" stroke="#000" stroke-width="0.32">0</text></g>
<g font-family="Liberation Serif" font-weight="bold" font-size="17.23" text-anchor="middle" fill="#000"><text transform="translate(1275.39,731.7) scale(1.003,1)" stroke="#000" stroke-width="0.05">9</text><text transform="translate(1285.08,731.7) scale(1.027,1)" stroke="#000" stroke-width="0.05">0</text><text transform="translate(1294.61,731.7) scale(0.951,1)" stroke="#000" stroke-width="0.05">1</text><text transform="translate(1304.38,731.7) scale(0.951,1)" stroke="#000" stroke-width="0.05">1</text><text transform="translate(1314.50,731.7) scale(1.003,1)" stroke="#000" stroke-width="0.05">9</text><text transform="translate(1324.21,731.7) scale(1.309,1)" stroke="#000" stroke-width="0.00">-</text><text transform="translate(1333.71,731.7) scale(0.951,1)" stroke="#000" stroke-width="0.05">1</text><text transform="translate(1343.81,731.7) scale(0.918,1)" stroke="#000" stroke-width="0.05">4</text><text transform="translate(1353.52,731.7) scale(1.027,1)" stroke="#000" stroke-width="0.05">0</text><text transform="translate(1363.29,731.7) scale(0.980,1)" stroke="#000" stroke-width="0.05">8</text><text transform="translate(1373.07,731.7) scale(0.980,1)" stroke="#000" stroke-width="0.05">8</text></g>
<g font-family="Liberation Serif" font-weight="bold" font-size="21.23" text-anchor="middle" fill="#000"><text transform="translate(1114.97,765.0) scale(0.879,1)" stroke="#000" stroke-width="0.33">4</text><text transform="translate(1126.43,765.0) scale(0.939,1)" stroke="#000" stroke-width="0.30">8</text><text transform="translate(1137.97,765.0) scale(0.939,1)" stroke="#000" stroke-width="0.30">8</text><text transform="translate(1149.22,765.0) scale(0.911,1)" stroke="#000" stroke-width="0.30">1</text><text transform="translate(1161.07,765.0) scale(0.984,1)" stroke="#000" stroke-width="0.30">5</text><text transform="translate(1172.36,765.0) scale(0.689,1)" stroke="#000" stroke-width="0.64">R</text></g>
<g font-family="Liberation Serif" font-weight="bold" font-size="21.08" text-anchor="middle" fill="#000"><text transform="translate(1116.27,801.0) scale(0.886,1)" stroke="#000" stroke-width="0.32">4</text><text transform="translate(1127.73,801.0) scale(0.946,1)" stroke="#000" stroke-width="0.30">8</text><text transform="translate(1139.27,801.0) scale(0.946,1)" stroke="#000" stroke-width="0.30">8</text><text transform="translate(1150.82,801.0) scale(0.991,1)" stroke="#000" stroke-width="0.30">2</text><text transform="translate(1162.45,801.0) scale(0.886,1)" stroke="#000" stroke-width="0.32">4</text><text transform="translate(1173.66,801.0) scale(0.694,1)" stroke="#000" stroke-width="0.63">R</text></g>
<g font-family="Liberation Serif" font-weight="bold" font-size="17.23" text-anchor="middle" fill="#000"><text transform="translate(1225.14,842.2) scale(0.990,1)" stroke="#000" stroke-width="0.05">9</text><text transform="translate(1234.70,842.2) scale(1.013,1)" stroke="#000" stroke-width="0.05">0</text><text transform="translate(1244.10,842.2) scale(0.938,1)" stroke="#000" stroke-width="0.05">1</text><text transform="translate(1253.75,842.2) scale(0.938,1)" stroke="#000" stroke-width="0.05">1</text><text transform="translate(1263.73,842.2) scale(0.990,1)" stroke="#000" stroke-width="0.05">9</text><text transform="translate(1273.32,842.2) scale(1.292,1)" stroke="#000" stroke-width="0.00">-</text><text transform="translate(1282.94,842.2) scale(1.013,1)" stroke="#000" stroke-width="0.05">0</text><text transform="translate(1292.58,842.2) scale(0.967,1)" stroke="#000" stroke-width="0.05">8</text><text transform="translate(1302.23,842.2) scale(0.967,1)" stroke="#000" stroke-width="0.05">8</text><text transform="translate(1311.80,842.2) scale(0.990,1)" stroke="#000" stroke-width="0.05">3</text><text transform="translate(1321.60,842.2) scale(0.905,1)" stroke="#000" stroke-width="0.05">4</text><text transform="translate(1331.09,842.2) scale(1.120,1)" stroke="#000" stroke-width="0.00">(</text><text transform="translate(1340.90,842.2) scale(0.905,1)" stroke="#000" stroke-width="0.05">4</text><text transform="translate(1350.67,842.2) scale(1.077,1)" stroke="#000" stroke-width="0.00">)</text></g>
<g font-family="Liberation Serif" font-weight="bold" font-size="17.23" text-anchor="middle" fill="#000"><text transform="translate(1003.42,886.5) scale(0.984,1)" stroke="#000" stroke-width="0.05">9</text><text transform="translate(1012.93,886.5) scale(1.008,1)" stroke="#000" stroke-width="0.05">0</text><text transform="translate(1022.44,886.5) scale(0.984,1)" stroke="#000" stroke-width="0.05">3</text><text transform="translate(1032.12,886.5) scale(0.962,1)" stroke="#000" stroke-width="0.05">8</text><text transform="translate(1041.72,886.5) scale(1.008,1)" stroke="#000" stroke-width="0.05">5</text><text transform="translate(1051.34,886.5) scale(1.285,1)" stroke="#000" stroke-width="0.00">-</text><text transform="translate(1060.66,886.5) scale(0.933,1)" stroke="#000" stroke-width="0.05">1</text><text transform="translate(1070.26,886.5) scale(0.933,1)" stroke="#000" stroke-width="0.05">1</text><text transform="translate(1080.11,886.5) scale(1.008,1)" stroke="#000" stroke-width="0.05">0</text><text transform="translate(1089.70,886.5) scale(1.008,1)" stroke="#000" stroke-width="0.05">2</text><text transform="translate(1099.05,886.5) scale(0.933,1)" stroke="#000" stroke-width="0.05">1</text><text transform="translate(1108.81,886.5) scale(1.114,1)" stroke="#000" stroke-width="0.00">(</text><text transform="translate(1118.49,886.5) scale(1.008,1)" stroke="#000" stroke-width="0.05">2</text><text transform="translate(1128.28,886.5) scale(1.071,1)" stroke="#000" stroke-width="0.00">)</text></g>
<g font-family="Liberation Serif" font-weight="bold" font-size="21.08" text-anchor="middle" fill="#000"><text transform="translate(1162.36,884.5) scale(0.883,1)" stroke="#000" stroke-width="0.33">4</text><text transform="translate(1173.79,884.5) scale(0.943,1)" stroke="#000" stroke-width="0.30">8</text><text transform="translate(1185.30,884.5) scale(0.943,1)" stroke="#000" stroke-width="0.30">8</text><text transform="translate(1196.82,884.5) scale(0.988,1)" stroke="#000" stroke-width="0.30">0</text><text transform="translate(1208.33,884.5) scale(0.988,1)" stroke="#000" stroke-width="0.30">5</text></g>
<g font-family="Liberation Serif" font-weight="bold" font-size="17.23" text-anchor="middle" fill="#000"><text transform="translate(1013.35,911.5) scale(0.994,1)" stroke="#000" stroke-width="0.05">9</text><text transform="translate(1022.96,911.5) scale(1.018,1)" stroke="#000" stroke-width="0.05">0</text><text transform="translate(1032.65,911.5) scale(1.018,1)" stroke="#000" stroke-width="0.05">5</text><text transform="translate(1042.34,911.5) scale(0.972,1)" stroke="#000" stroke-width="0.05">6</text><text transform="translate(1052.04,911.5) scale(1.018,1)" stroke="#000" stroke-width="0.05">0</text><text transform="translate(1061.75,911.5) scale(1.298,1)" stroke="#000" stroke-width="0.00">-</text><text transform="translate(1071.17,911.5) scale(0.943,1)" stroke="#000" stroke-width="0.05">1</text><text transform="translate(1081.11,911.5) scale(1.018,1)" stroke="#000" stroke-width="0.05">0</text><text transform="translate(1090.81,911.5) scale(1.018,1)" stroke="#000" stroke-width="0.05">2</text><text transform="translate(1100.15,911.5) scale(1.018,1)" stroke="#000" stroke-width="0.05">7</text><text transform="translate(1110.19,911.5) scale(1.018,1)" stroke="#000" stroke-width="0.05">5</text><text transform="translate(1119.79,911.5) scale(1.125,1)" stroke="#000" stroke-width="0.00">(</text><text transform="translate(1129.57,911.5) scale(1.018,1)" stroke="#000" stroke-width="0.05">2</text><text transform="translate(1139.46,911.5) scale(1.082,1)" stroke="#000" stroke-width="0.00">)</text></g>
<g font-family="Liberation Serif" font-weight="bold" font-size="17.23" text-anchor="middle" fill="#000"><text transform="translate(1099.85,941.6) scale(0.993,1)" stroke="#000" stroke-width="0.05">9</text><text transform="translate(1109.45,941.6) scale(1.017,1)" stroke="#000" stroke-width="0.05">0</text><text transform="translate(1118.89,941.6) scale(0.942,1)" stroke="#000" stroke-width="0.05">1</text><text transform="translate(1128.82,941.6) scale(1.017,1)" stroke="#000" stroke-width="0.05">0</text><text transform="translate(1138.26,941.6) scale(0.942,1)" stroke="#000" stroke-width="0.05">1</text><text transform="translate(1148.21,941.6) scale(1.297,1)" stroke="#000" stroke-width="0.00">-</text><text transform="translate(1157.62,941.6) scale(0.942,1)" stroke="#000" stroke-width="0.05">1</text><text transform="translate(1167.56,941.6) scale(1.017,1)" stroke="#000" stroke-width="0.05">0</text><text transform="translate(1176.99,941.6) scale(0.942,1)" stroke="#000" stroke-width="0.05">1</text><text transform="translate(1186.58,941.6) scale(1.017,1)" stroke="#000" stroke-width="0.05">7</text><text transform="translate(1196.61,941.6) scale(1.017,1)" stroke="#000" stroke-width="0.05">2</text><text transform="translate(1206.21,941.6) scale(1.124,1)" stroke="#000" stroke-width="0.00">(</text><text transform="translate(1215.98,941.6) scale(1.017,1)" stroke="#000" stroke-width="0.05">2</text><text transform="translate(1225.86,941.6) scale(1.081,1)" stroke="#000" stroke-width="0.00">)</text></g>
<text x="1364.6" y="988.2" font-family="Liberation Sans" font-size="18.00" textLength="71.8" lengthAdjust="spacingAndGlyphs" fill="#000">480659E</text>
</svg></body></html>
